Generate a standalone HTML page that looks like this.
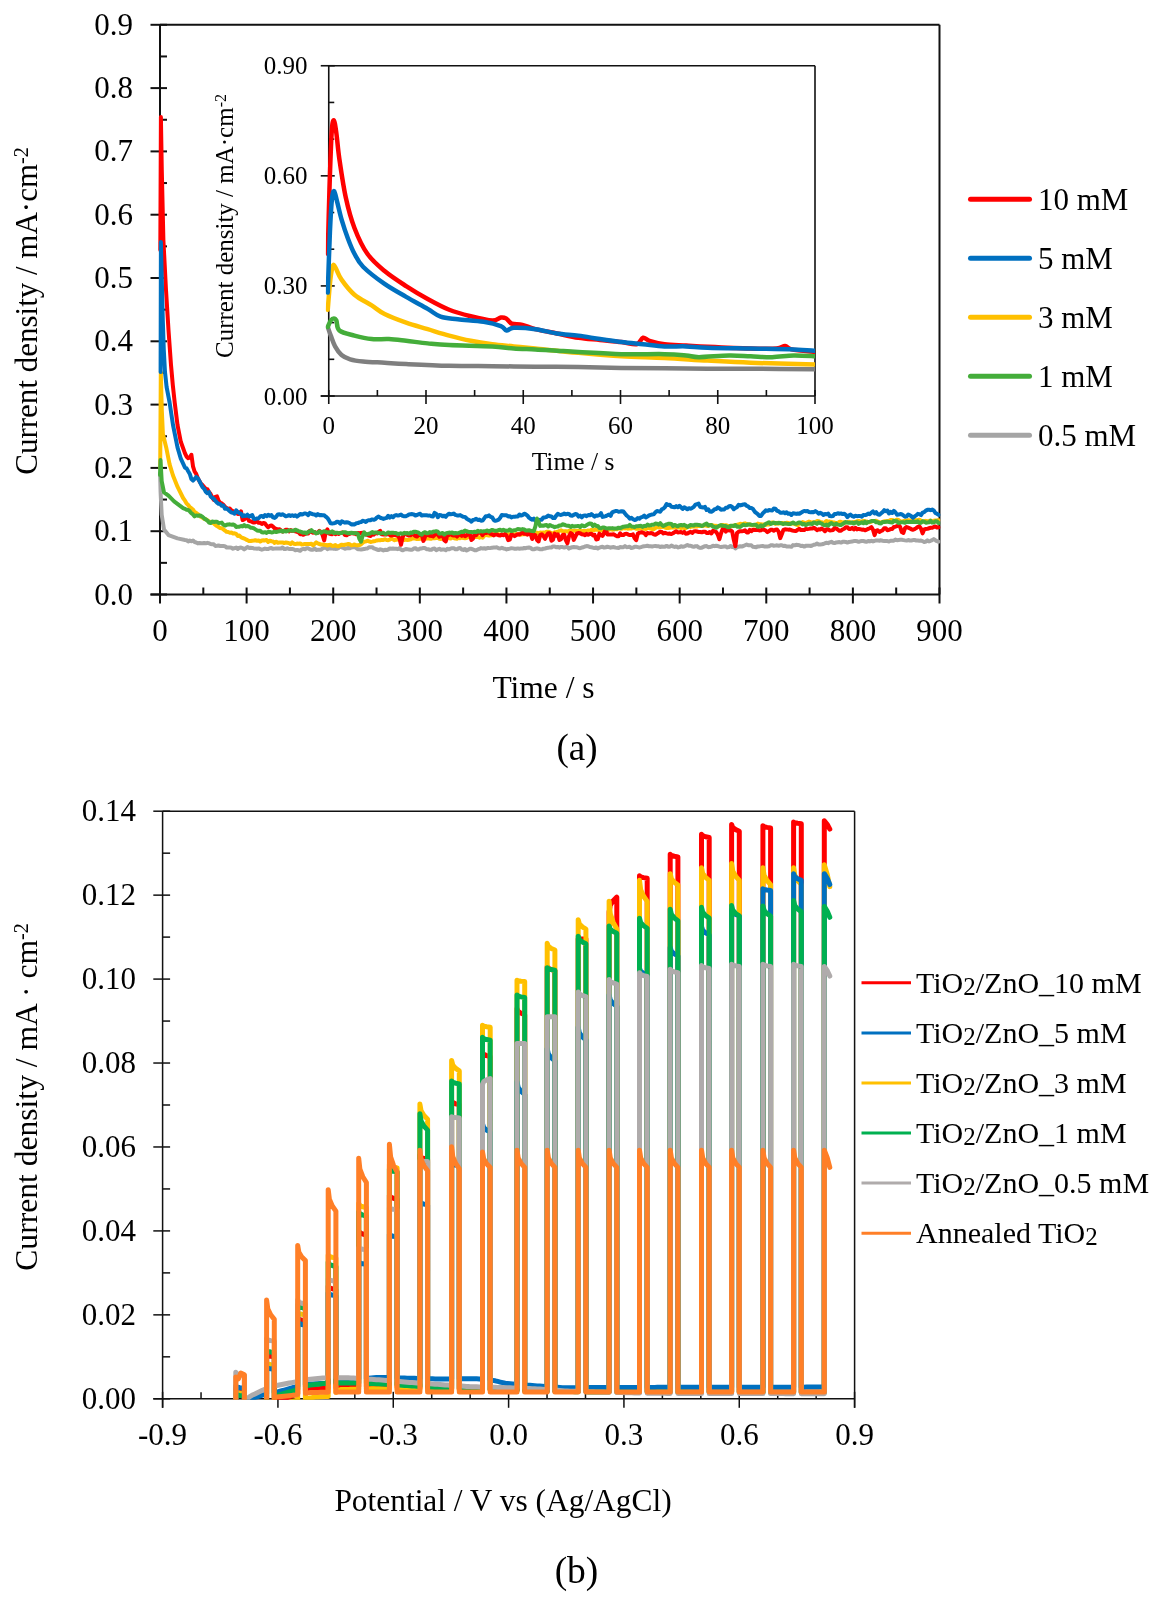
<!DOCTYPE html>
<html><head><meta charset="utf-8"><style>html,body{margin:0;padding:0;background:#fff;width:1161px;height:1602px;overflow:hidden}svg{display:block;will-change:transform}</style></head>
<body><svg width="1161" height="1602" viewBox="0 0 1161 1602" font-family="'Liberation Serif', serif">
<rect width="1161" height="1602" fill="#fff"/>
<line x1="160" y1="24.8" x2="939.5" y2="24.8" stroke="#111" stroke-width="2"/>
<line x1="939.5" y1="24.8" x2="939.5" y2="594.5" stroke="#111" stroke-width="2"/>
<line x1="160" y1="24.8" x2="160" y2="594.5" stroke="#111" stroke-width="2"/>
<line x1="150.5" y1="594.5" x2="939.5" y2="594.5" stroke="#111" stroke-width="2"/>
<line x1="150.5" y1="594.5" x2="167" y2="594.5" stroke="#111" stroke-width="2"/>
<text x="133" y="604.5" font-size="31" text-anchor="end" >0.0</text>
<line x1="150.5" y1="531.2" x2="167" y2="531.2" stroke="#111" stroke-width="2"/>
<text x="133" y="541.2" font-size="31" text-anchor="end" >0.1</text>
<line x1="150.5" y1="467.9" x2="167" y2="467.9" stroke="#111" stroke-width="2"/>
<text x="133" y="477.9" font-size="31" text-anchor="end" >0.2</text>
<line x1="150.5" y1="404.6" x2="167" y2="404.6" stroke="#111" stroke-width="2"/>
<text x="133" y="414.6" font-size="31" text-anchor="end" >0.3</text>
<line x1="150.5" y1="341.3" x2="167" y2="341.3" stroke="#111" stroke-width="2"/>
<text x="133" y="351.3" font-size="31" text-anchor="end" >0.4</text>
<line x1="150.5" y1="278" x2="167" y2="278" stroke="#111" stroke-width="2"/>
<text x="133" y="288" font-size="31" text-anchor="end" >0.5</text>
<line x1="150.5" y1="214.7" x2="167" y2="214.7" stroke="#111" stroke-width="2"/>
<text x="133" y="224.7" font-size="31" text-anchor="end" >0.6</text>
<line x1="150.5" y1="151.4" x2="167" y2="151.4" stroke="#111" stroke-width="2"/>
<text x="133" y="161.4" font-size="31" text-anchor="end" >0.7</text>
<line x1="150.5" y1="88.1" x2="167" y2="88.1" stroke="#111" stroke-width="2"/>
<text x="133" y="98.1" font-size="31" text-anchor="end" >0.8</text>
<line x1="150.5" y1="24.8" x2="167" y2="24.8" stroke="#111" stroke-width="2"/>
<text x="133" y="34.8" font-size="31" text-anchor="end" >0.9</text>
<line x1="160" y1="562.85" x2="167" y2="562.85" stroke="#111" stroke-width="2"/>
<line x1="160" y1="499.55" x2="167" y2="499.55" stroke="#111" stroke-width="2"/>
<line x1="160" y1="436.25" x2="167" y2="436.25" stroke="#111" stroke-width="2"/>
<line x1="160" y1="372.95" x2="167" y2="372.95" stroke="#111" stroke-width="2"/>
<line x1="160" y1="309.65" x2="167" y2="309.65" stroke="#111" stroke-width="2"/>
<line x1="160" y1="246.35" x2="167" y2="246.35" stroke="#111" stroke-width="2"/>
<line x1="160" y1="183.05" x2="167" y2="183.05" stroke="#111" stroke-width="2"/>
<line x1="160" y1="119.75" x2="167" y2="119.75" stroke="#111" stroke-width="2"/>
<line x1="160" y1="56.45" x2="167" y2="56.45" stroke="#111" stroke-width="2"/>
<line x1="160" y1="587.5" x2="160" y2="603.5" stroke="#111" stroke-width="2"/>
<text x="160" y="641" font-size="31" text-anchor="middle" >0</text>
<line x1="246.61" y1="587.5" x2="246.61" y2="603.5" stroke="#111" stroke-width="2"/>
<text x="246.61" y="641" font-size="31" text-anchor="middle" >100</text>
<line x1="333.22" y1="587.5" x2="333.22" y2="603.5" stroke="#111" stroke-width="2"/>
<text x="333.22" y="641" font-size="31" text-anchor="middle" >200</text>
<line x1="419.83" y1="587.5" x2="419.83" y2="603.5" stroke="#111" stroke-width="2"/>
<text x="419.83" y="641" font-size="31" text-anchor="middle" >300</text>
<line x1="506.44" y1="587.5" x2="506.44" y2="603.5" stroke="#111" stroke-width="2"/>
<text x="506.44" y="641" font-size="31" text-anchor="middle" >400</text>
<line x1="593.06" y1="587.5" x2="593.06" y2="603.5" stroke="#111" stroke-width="2"/>
<text x="593.06" y="641" font-size="31" text-anchor="middle" >500</text>
<line x1="679.67" y1="587.5" x2="679.67" y2="603.5" stroke="#111" stroke-width="2"/>
<text x="679.67" y="641" font-size="31" text-anchor="middle" >600</text>
<line x1="766.28" y1="587.5" x2="766.28" y2="603.5" stroke="#111" stroke-width="2"/>
<text x="766.28" y="641" font-size="31" text-anchor="middle" >700</text>
<line x1="852.89" y1="587.5" x2="852.89" y2="603.5" stroke="#111" stroke-width="2"/>
<text x="852.89" y="641" font-size="31" text-anchor="middle" >800</text>
<line x1="939.5" y1="587.5" x2="939.5" y2="603.5" stroke="#111" stroke-width="2"/>
<text x="939.5" y="641" font-size="31" text-anchor="middle" >900</text>
<line x1="203.31" y1="587.5" x2="203.31" y2="594.5" stroke="#111" stroke-width="2"/>
<line x1="289.92" y1="587.5" x2="289.92" y2="594.5" stroke="#111" stroke-width="2"/>
<line x1="376.53" y1="587.5" x2="376.53" y2="594.5" stroke="#111" stroke-width="2"/>
<line x1="463.14" y1="587.5" x2="463.14" y2="594.5" stroke="#111" stroke-width="2"/>
<line x1="549.75" y1="587.5" x2="549.75" y2="594.5" stroke="#111" stroke-width="2"/>
<line x1="636.36" y1="587.5" x2="636.36" y2="594.5" stroke="#111" stroke-width="2"/>
<line x1="722.97" y1="587.5" x2="722.97" y2="594.5" stroke="#111" stroke-width="2"/>
<line x1="809.58" y1="587.5" x2="809.58" y2="594.5" stroke="#111" stroke-width="2"/>
<line x1="896.19" y1="587.5" x2="896.19" y2="594.5" stroke="#111" stroke-width="2"/>
<clipPath id="clipA"><rect x="150" y="24.8" width="790.5" height="569.7"/></clipPath>
<g clip-path="url(#clipA)">
<path d="M160.1,473.3 L160.6,492.4 L161.7,514.8 L164,529.4 L168.5,535.1 L177.5,538.4 L185,540.03 L186.6,540.17 L188.2,541.47 L189.8,540.55 L191.4,541.24 L193,540.52 L194.6,542.05 L196.2,542.46 L197.8,543.39 L199.4,542.95 L201,543.28 L202.6,543.15 L204.2,542.9 L205.8,543.33 L207.4,542.86 L209,543.16 L210.6,543.98 L212.2,544.26 L213.8,544.34 L215.4,545.96 L217,545.83 L218.6,545.55 L220.2,545.95 L221.8,545.95 L223.4,546.06 L225,546.17 L226.6,547.61 L228.2,547.38 L229.8,547.4 L231.4,547.75 L233,548.76 L234.6,548.11 L236.2,547.55 L237.8,548.99 L239.4,547.66 L241,547.56 L242.6,548.12 L244.2,549.35 L245.8,548.29 L247.4,546.92 L249,547.91 L250.6,547.83 L252.2,547.9 L253.8,548.44 L255.4,548.62 L257,548.73 L258.6,548.39 L260.2,549.15 L261.8,549.68 L263.4,549.17 L265,548.62 L266.6,548.97 L268.2,549.02 L269.8,548.21 L271.4,548.09 L273,548.85 L274.6,548.64 L276.2,548.4 L277.8,548.56 L279.4,548.51 L281,548.52 L282.6,547.48 L284.2,548.94 L285.8,548.9 L287.4,548.29 L289,548.99 L290.6,549.01 L292.2,548.88 L293.8,549.38 L295.4,550.33 L297,549.92 L298.6,550.28 L300.2,550.79 L301.8,549.34 L303.4,548.82 L305,549.26 L306.6,548.15 L308.2,548.34 L309.8,549.31 L311.4,549.71 L313,549.69 L314.6,548.33 L316.2,549.92 L317.8,549.82 L319.4,549.85 L321,549.68 L322.6,548.35 L324.2,547.76 L325.8,547.53 L327.4,549.11 L329,548.44 L330.6,548.38 L332.2,548.32 L333.8,548.72 L335.4,548.88 L337,548.82 L338.6,547.93 L340.2,546.38 L341.8,547.33 L343.4,547.89 L345,548.71 L346.6,548.4 L348.2,547.99 L349.8,548.36 L351.4,547.49 L353,547.31 L354.6,547.24 L356.2,547.93 L357.8,549.31 L359.4,549.36 L361,549.6 L362.6,549.26 L364.2,549.1 L365.8,548.63 L367.4,548.48 L369,547.23 L370.6,547.23 L372.2,547.19 L373.8,548.36 L375.4,548.92 L377,549.5 L378.6,550.07 L380.2,549.37 L381.8,549.74 L383.4,550.46 L385,549.79 L386.6,550.03 L388.2,549.49 L389.8,548.42 L391.4,548.79 L393,548.49 L394.6,548.85 L396.2,548.75 L397.8,549.14 L399.4,548.02 L401,549.73 L402.6,550.29 L404.2,549.67 L405.8,549 L407.4,549.14 L409,549.58 L410.6,549.69 L412.2,549.73 L413.8,548.46 L415.4,548.21 L417,549.44 L418.6,549.51 L420.2,548.58 L421.8,548.43 L423.4,548.02 L425,548.04 L426.6,549.25 L428.2,549.15 L429.8,549.84 L431.4,549.7 L433,548.68 L434.6,548.6 L436.2,550.19 L437.8,549.36 L439.4,548.75 L441,549.69 L442.6,549.56 L444.2,549.44 L445.8,550.2 L447.4,548.81 L449,549.26 L450.6,548.69 L452.2,548.18 L453.8,548.23 L455.4,549.36 L457,549.25 L458.6,548.24 L460.2,548.1 L461.8,549.47 L463.4,549.94 L465,548.99 L466.6,550.44 L468.2,549.65 L469.8,548.75 L471.4,548.83 L473,549.47 L474.6,550.19 L476.2,550.24 L477.8,549.45 L479.4,548.92 L481,548.12 L482.6,548.44 L484.2,548.31 L485.8,548.71 L487.4,548.06 L489,548.12 L490.6,547.93 L492.2,547.64 L493.8,547.48 L495.4,547.47 L497,547.36 L498.6,548.28 L500.2,548.5 L501.8,547.82 L503.4,548.46 L505,548.68 L506.6,549.45 L508.2,548.93 L509.8,548.62 L511.4,548.17 L513,548.37 L514.6,548.68 L516.2,548.66 L517.8,548.39 L519.4,548.7 L521,548.59 L522.6,548.6 L524.2,547.94 L525.8,548.2 L527.4,547.66 L529,547.43 L530.6,547.87 L532.2,549.19 L533.8,549.28 L535.4,548.76 L537,548.36 L538.6,548.78 L540.2,549.23 L541.8,549.37 L543.4,548.65 L545,548.45 L546.6,548.04 L548.2,547.82 L549.8,547.38 L551.4,547.46 L553,546.42 L554.6,546.38 L556.2,547.26 L557.8,546.97 L559.4,547.62 L561,546.94 L562.6,547.07 L564.2,547.57 L565.8,547.02 L567.4,546.89 L569,548.6 L570.6,547.76 L572.2,547.27 L573.8,547.06 L575.4,547.28 L577,547.35 L578.6,547.95 L580.2,548.16 L581.8,547.59 L583.4,547.3 L585,546.53 L586.6,546.05 L588.2,546.2 L589.8,547.1 L591.4,547.24 L593,547.69 L594.6,548 L596.2,547.54 L597.8,548.55 L599.4,547.62 L601,547.04 L602.6,546.82 L604.2,547.57 L605.8,547.25 L607.4,546.73 L609,547.09 L610.6,547.67 L612.2,547.3 L613.8,547.01 L615.4,547.6 L617,547.86 L618.6,547.98 L620.2,547.08 L621.8,547.17 L623.4,547.26 L625,546.09 L626.6,547.13 L628.2,547.08 L629.8,546.8 L631.4,548.1 L633,547.63 L634.6,546.87 L636.2,546.82 L637.8,547.15 L639.4,547.46 L641,547.14 L642.6,546.5 L644.2,546.24 L645.8,546.03 L647.4,545.78 L649,546.21 L650.6,546.19 L652.2,546.47 L653.8,546.13 L655.4,545.92 L657,546.18 L658.6,546.23 L660.2,547.09 L661.8,546.41 L663.4,546.65 L665,546.64 L666.6,545.92 L668.2,546.67 L669.8,546.76 L671.4,545.53 L673,546.37 L674.6,547.01 L676.2,546.39 L677.8,547.44 L679.4,547.15 L681,546.25 L682.6,546.72 L684.2,546.45 L685.8,545.75 L687.4,544.91 L689,545.79 L690.6,545.71 L692.2,546.44 L693.8,546.7 L695.4,546.32 L697,546.11 L698.6,547.27 L700.2,547.88 L701.8,547.67 L703.4,546.92 L705,546.16 L706.6,546.07 L708.2,547.16 L709.8,547.08 L711.4,546.61 L713,545.82 L714.6,546.17 L716.2,545.76 L717.8,546.04 L719.4,546.59 L721,547.07 L722.6,546.81 L724.2,546.39 L725.8,546.47 L727.4,547.4 L729,547.1 L730.6,545.94 L732.2,546.95 L733.8,546.77 L735.4,548.47 L737,547.19 L738.6,546.69 L740.2,546.3 L741.8,546.45 L743.4,546 L745,545.24 L746.6,544.57 L748.2,545.2 L749.8,545.32 L751.4,545.35 L753,546.87 L754.6,546.96 L756.2,547.17 L757.8,546.39 L759.4,546.4 L761,546.12 L762.6,545.96 L764.2,546.4 L765.8,546.55 L767.4,546.47 L769,546.33 L770.6,545.36 L772.2,545.21 L773.8,545.75 L775.4,545.62 L777,545.32 L778.6,545.78 L780.2,545.31 L781.8,545.18 L783.4,545.97 L785,545.7 L786.6,546.54 L788.2,546.48 L789.8,546.61 L791.4,546.84 L793,545.12 L794.6,545.33 L796.2,544.76 L797.8,544.9 L799.4,545.16 L801,546.05 L802.6,545.81 L804.2,546.61 L805.8,545.83 L807.4,545.66 L809,545.63 L810.6,546 L812.2,545.48 L813.8,544.76 L815.4,544.43 L817,543.54 L818.6,544.43 L820.2,544.53 L821.8,544.3 L823.4,543.99 L825,543.22 L826.6,542.8 L828.2,543.14 L829.8,542.33 L831.4,541.79 L833,542.7 L834.6,543.08 L836.2,542.48 L837.8,542.24 L839.4,542.01 L841,542.58 L842.6,541.84 L844.2,541.74 L845.8,541.9 L847.4,542.52 L849,541.92 L850.6,541.86 L852.2,541.43 L853.8,541.1 L855.4,540.91 L857,541.22 L858.6,541.84 L860.2,541.3 L861.8,541.06 L863.4,541.03 L865,541.44 L866.6,541.85 L868.2,541 L869.8,541.42 L871.4,540.86 L873,541.47 L874.6,540.86 L876.2,540.43 L877.8,540.38 L879.4,540.69 L881,540.31 L882.6,540.76 L884.2,540.94 L885.8,540.98 L887.4,541.09 L889,541.46 L890.6,540.75 L892.2,540.74 L893.8,540.7 L895.4,539.53 L897,540.22 L898.6,539.93 L900.2,539.78 L901.8,539.82 L903.4,540.12 L905,540.39 L906.6,540.61 L908.2,540.05 L909.8,540.49 L911.4,540.55 L913,540.12 L914.6,540.06 L916.2,540.46 L917.8,540.52 L919.4,540.76 L921,540.61 L922.6,541.13 L924.2,542.05 L925.8,541.61 L927.4,540.28 L929,541.41 L930.6,540.8 L932.2,540.06 L933.8,539.14 L935.4,540.21 L937,541.2 L938.6,541.73" fill="none" stroke="#A5A5A5" stroke-width="4" stroke-linejoin="round" stroke-linecap="round" />
<path d="M160.2,468 L160.8,372 L161.8,410 L162.9,434 L166.2,447.4 L169.6,464.3 L173,475.5 L177.5,486.7 L183.1,498 L185,500.7 L186.6,503.59 L188.2,504.99 L189.8,507.25 L191.4,508.29 L193,509.5 L194.6,511.98 L196.2,513.02 L197.8,514.1 L199.4,515.49 L201,516.98 L202.6,517.67 L204.2,518.91 L205.8,519.24 L207.4,520.3 L209,521.37 L210.6,521.99 L212.2,522.77 L213.8,523.55 L215.4,524.94 L217,526.1 L218.6,527 L220.2,528.06 L221.8,528.23 L223.4,529.37 L225,530.54 L226.6,531.83 L228.2,532.01 L229.8,532.72 L231.4,532.58 L233,533.5 L234.6,533.35 L236.2,533.97 L237.8,535.96 L239.4,535.52 L241,537.17 L242.6,538.06 L244.2,538.44 L245.8,539.33 L247.4,540.1 L249,541.06 L250.6,541.11 L252.2,540.73 L253.8,540.55 L255.4,540.28 L257,540.69 L258.6,540.54 L260.2,541.52 L261.8,540.48 L263.4,540.37 L265,540.45 L266.6,539.94 L268.2,541.92 L269.8,540.69 L271.4,541.25 L273,541.48 L274.6,542.87 L276.2,541.69 L277.8,542.78 L279.4,542.45 L281,542.58 L282.6,542.39 L284.2,543.02 L285.8,542.42 L287.4,542.7 L289,543.11 L290.6,544.18 L292.2,542.46 L293.8,543.7 L295.4,544.09 L297,543.54 L298.6,543.7 L300.2,543.39 L301.8,544.47 L303.4,544.32 L305,544.05 L306.6,543.95 L308.2,543.96 L309.8,544.03 L311.4,543.73 L313,545.24 L314.6,543.93 L316.2,542.33 L317.8,543.42 L319.4,544 L321,544.59 L322.6,544.62 L324.2,544.67 L325.8,544.97 L327.4,545.5 L329,545.03 L330.6,544.81 L332.2,545.98 L333.8,545.86 L335.4,544.97 L337,546.31 L338.6,546.21 L340.2,545.41 L341.8,544.66 L343.4,545.07 L345,544.69 L346.6,544.36 L348.2,544.06 L349.8,544.34 L351.4,545.39 L353,545.14 L354.6,544.45 L356.2,545.24 L357.8,545.36 L359.4,545.02 L361,544.39 L362.6,542.8 L364.2,541.63 L365.8,541.47 L367.4,540.75 L369,541.31 L370.6,541.97 L372.2,541.65 L373.8,541.21 L375.4,540.92 L377,540.45 L378.6,540.14 L380.2,540.16 L381.8,539.9 L383.4,539.94 L385,539.31 L386.6,539.98 L388.2,540.16 L389.8,539.56 L391.4,538.57 L393,539.25 L394.6,540.21 L396.2,539.69 L397.8,539.51 L399.4,539.33 L401,539.87 L402.6,539.27 L404.2,539.96 L405.8,539.58 L407.4,540.02 L409,539.73 L410.6,539.39 L412.2,538.49 L413.8,538.39 L415.4,538.53 L417,539.08 L418.6,539.12 L420.2,538.59 L421.8,538.87 L423.4,539.31 L425,538.89 L426.6,538.46 L428.2,538.21 L429.8,538.71 L431.4,538.79 L433,538.04 L434.6,538.36 L436.2,538.07 L437.8,537.76 L439.4,538.69 L441,538.96 L442.6,538.27 L444.2,538.33 L445.8,538.59 L447.4,538.11 L449,538.13 L450.6,538.57 L452.2,537.47 L453.8,538.02 L455.4,538.55 L457,538.72 L458.6,537.79 L460.2,538.2 L461.8,537.64 L463.4,538.03 L465,538.19 L466.6,537.99 L468.2,537.27 L469.8,536.89 L471.4,537.41 L473,536.65 L474.6,536.93 L476.2,537.02 L477.8,536.56 L479.4,537.71 L481,536.98 L482.6,537.65 L484.2,535.66 L485.8,534.37 L487.4,535.36 L489,535.64 L490.6,535.28 L492.2,535.19 L493.8,534.09 L495.4,534.15 L497,533.92 L498.6,534.21 L500.2,534.94 L501.8,534.85 L503.4,534.94 L505,534.36 L506.6,534.16 L508.2,534.31 L509.8,534.14 L511.4,534.86 L513,534.05 L514.6,535.08 L516.2,534.04 L517.8,534.55 L519.4,533.79 L521,534.67 L522.6,534.28 L524.2,534.18 L525.8,534.28 L527.4,533.54 L529,532.87 L530.6,531.93 L532.2,533.16 L533.8,532.75 L535.4,532.54 L537,532.7 L538.6,533.87 L540.2,532.43 L541.8,532.69 L543.4,532.44 L545,532.78 L546.6,531.63 L548.2,531.71 L549.8,532.39 L551.4,533.1 L553,533.46 L554.6,532.27 L556.2,532.06 L557.8,531.8 L559.4,530.91 L561,530.34 L562.6,531.18 L564.2,531.31 L565.8,531.12 L567.4,531.71 L569,530.77 L570.6,531.04 L572.2,530.85 L573.8,530.66 L575.4,530.85 L577,530.77 L578.6,530.75 L580.2,530.72 L581.8,531.6 L583.4,530.82 L585,531.1 L586.6,531 L588.2,530.4 L589.8,530.68 L591.4,529.9 L593,530.56 L594.6,529.82 L596.2,529.56 L597.8,529.84 L599.4,530.26 L601,530.5 L602.6,530.61 L604.2,530.03 L605.8,529.28 L607.4,529.67 L609,529.72 L610.6,529.04 L612.2,529.69 L613.8,529.6 L615.4,528.89 L617,529.25 L618.6,528.45 L620.2,528.23 L621.8,528.79 L623.4,527.99 L625,528.41 L626.6,527.85 L628.2,528.66 L629.8,528.28 L631.4,528.55 L633,527.74 L634.6,527.91 L636.2,528.69 L637.8,528.83 L639.4,527.61 L641,528.44 L642.6,528.85 L644.2,528.36 L645.8,529.05 L647.4,528.04 L649,527.99 L650.6,528.61 L652.2,529.03 L653.8,529.21 L655.4,527.99 L657,526.91 L658.6,527.49 L660.2,526.78 L661.8,527.08 L663.4,526.59 L665,527.58 L666.6,527.96 L668.2,528.01 L669.8,527.71 L671.4,527.54 L673,527.23 L674.6,527.41 L676.2,527.41 L677.8,527.5 L679.4,527.03 L681,528.03 L682.6,527.67 L684.2,528.05 L685.8,528.21 L687.4,527.05 L689,525.94 L690.6,526.93 L692.2,526.54 L693.8,526.56 L695.4,526.36 L697,526.44 L698.6,525.73 L700.2,525.91 L701.8,525.79 L703.4,525.94 L705,524.72 L706.6,525.76 L708.2,526.04 L709.8,525.04 L711.4,525.01 L713,525.38 L714.6,525.9 L716.2,525.81 L717.8,526.49 L719.4,526.09 L721,525.29 L722.6,525 L724.2,525.59 L725.8,525.15 L727.4,525.68 L729,526.05 L730.6,525.98 L732.2,526.16 L733.8,525.58 L735.4,525.32 L737,524.83 L738.6,524.53 L740.2,523.81 L741.8,523.95 L743.4,523.72 L745,523.37 L746.6,524.01 L748.2,524.51 L749.8,524.33 L751.4,525.14 L753,525.32 L754.6,525.46 L756.2,524.6 L757.8,523.61 L759.4,524.17 L761,524.32 L762.6,524.6 L764.2,524.56 L765.8,524.98 L767.4,524.33 L769,524.48 L770.6,523.67 L772.2,522.43 L773.8,522.74 L775.4,523.96 L777,522.86 L778.6,523.71 L780.2,523.22 L781.8,523.08 L783.4,523.24 L785,523.4 L786.6,522.81 L788.2,523.08 L789.8,523.38 L791.4,523.74 L793,523.05 L794.6,523.91 L796.2,524.57 L797.8,525.19 L799.4,523.44 L801,523.3 L802.6,522.08 L804.2,522.62 L805.8,523 L807.4,522.25 L809,521.58 L810.6,522.17 L812.2,522.71 L813.8,522.21 L815.4,522.21 L817,520.95 L818.6,521.23 L820.2,521.84 L821.8,522.16 L823.4,523.1 L825,522.1 L826.6,520.92 L828.2,521.74 L829.8,521.6 L831.4,521.99 L833,522.42 L834.6,522.57 L836.2,523.1 L837.8,523.32 L839.4,521.77 L841,521.78 L842.6,522.9 L844.2,522.17 L845.8,522.51 L847.4,522.12 L849,521.68 L850.6,522.53 L852.2,522.68 L853.8,522.04 L855.4,522.3 L857,521.2 L858.6,520.91 L860.2,521.62 L861.8,521.52 L863.4,520.84 L865,521.28 L866.6,521.44 L868.2,522.04 L869.8,522.17 L871.4,521.54 L873,521.07 L874.6,520.98 L876.2,520.86 L877.8,521.71 L879.4,522.23 L881,522.37 L882.6,521.89 L884.2,521.26 L885.8,521.53 L887.4,520.98 L889,520.97 L890.6,519.91 L892.2,519.99 L893.8,521.04 L895.4,520.28 L897,519.62 L898.6,520 L900.2,521.22 L901.8,521.77 L903.4,521.09 L905,520.66 L906.6,520.63 L908.2,520.17 L909.8,520.45 L911.4,520.43 L913,519.78 L914.6,519.92 L916.2,520.18 L917.8,520 L919.4,519.76 L921,520.75 L922.6,521.85 L924.2,521.25 L925.8,520.86 L927.4,521.16 L929,520.93 L930.6,520.5 L932.2,521.47 L933.8,520.67 L935.4,520.41 L937,520.31 L938.6,520.14" fill="none" stroke="#FFC000" stroke-width="4" stroke-linejoin="round" stroke-linecap="round" />
<path d="M160.3,250 L160.9,117 L161.8,170 L163.4,240 L166,290 L168.5,330 L171,365 L172.8,385 L174.7,402.5 L177.5,425 L180.8,441.8 L185,453.41 L186.6,456.74 L188.2,458.15 L189.8,457.58 L191.4,454.83 L193,466.32 L194.6,471.49 L196.2,473.94 L197.8,478.14 L199.4,480.89 L201,483.78 L202.6,485.06 L204.2,487.24 L205.8,488.94 L207.4,489.3 L209,492.06 L210.6,494.1 L212.2,497.41 L213.8,499.85 L215.4,496.79 L217,496.3 L218.6,500.78 L220.2,502.76 L221.8,503.42 L223.4,504.77 L225,506.69 L226.6,507.99 L228.2,508.73 L229.8,508.58 L231.4,510.41 L233,511.02 L234.6,512.19 L236.2,512.65 L237.8,513.95 L239.4,513.68 L241,511.43 L242.6,520.07 L244.2,519.39 L245.8,516.72 L247.4,517.66 L249,520.91 L250.6,521.28 L252.2,521.98 L253.8,522.51 L255.4,522.17 L257,521.03 L258.6,522.84 L260.2,522.79 L261.8,523.95 L263.4,522.95 L265,523.5 L266.6,525.64 L268.2,527.25 L269.8,525.95 L271.4,525.48 L273,526.66 L274.6,528.28 L276.2,528.93 L277.8,529.69 L279.4,529.23 L281,530.36 L282.6,531.53 L284.2,530.88 L285.8,529.73 L287.4,529.81 L289,531.33 L290.6,530.03 L292.2,530.89 L293.8,530.67 L295.4,531.42 L297,531.84 L298.6,532.41 L300.2,534.15 L301.8,534.05 L303.4,534.84 L305,533.96 L306.6,533.19 L308.2,533.56 L309.8,530.89 L311.4,531.95 L313,532.74 L314.6,531.93 L316.2,533.03 L317.8,532.74 L319.4,530.88 L321,531.9 L322.6,535.06 L324.2,540.34 L325.8,531.62 L327.4,529.39 L329,533.61 L330.6,533.98 L332.2,534.27 L333.8,532.47 L335.4,534.25 L337,533.15 L338.6,533.94 L340.2,532.97 L341.8,532.57 L343.4,532.88 L345,535.11 L346.6,535.27 L348.2,534.19 L349.8,533.9 L351.4,532.96 L353,533.45 L354.6,533.24 L356.2,534.3 L357.8,533.02 L359.4,533.24 L361,532.91 L362.6,532.85 L364.2,534.1 L365.8,534.27 L367.4,534.79 L369,535.62 L370.6,536.05 L372.2,534.02 L373.8,534.63 L375.4,532.9 L377,533.48 L378.6,532.05 L380.2,530.77 L381.8,534.31 L383.4,534.49 L385,534.46 L386.6,534.46 L388.2,533.76 L389.8,535.04 L391.4,535.57 L393,534.88 L394.6,534.98 L396.2,535.35 L397.8,535.89 L399.4,538.08 L401,544.74 L402.6,537.39 L404.2,533.76 L405.8,533.63 L407.4,534.92 L409,535.59 L410.6,535.2 L412.2,534.34 L413.8,534.65 L415.4,536.04 L417,536.53 L418.6,534.95 L420.2,534.66 L421.8,534.86 L423.4,540.9 L425,536.9 L426.6,533.98 L428.2,535.01 L429.8,535.85 L431.4,535.92 L433,536.39 L434.6,534.96 L436.2,533.65 L437.8,534.4 L439.4,536.76 L441,535.97 L442.6,534.17 L444.2,540.16 L445.8,541.37 L447.4,534.08 L449,534.88 L450.6,534.04 L452.2,535.27 L453.8,535.51 L455.4,535.2 L457,536.55 L458.6,535.12 L460.2,534.09 L461.8,535.8 L463.4,534.28 L465,536.21 L466.6,535.25 L468.2,533.82 L469.8,533.96 L471.4,539.98 L473,538.69 L474.6,534.06 L476.2,535.05 L477.8,532.54 L479.4,532.74 L481,533.11 L482.6,535.18 L484.2,532.89 L485.8,533.11 L487.4,532.51 L489,532.6 L490.6,533.82 L492.2,534.29 L493.8,535.46 L495.4,534.27 L497,534.39 L498.6,535.27 L500.2,535.51 L501.8,534.53 L503.4,535.31 L505,533.89 L506.6,535.56 L508.2,540.09 L509.8,539.54 L511.4,534.49 L513,535.03 L514.6,536.14 L516.2,535.05 L517.8,534.24 L519.4,534.66 L521,533.58 L522.6,532.24 L524.2,533.79 L525.8,533.54 L527.4,534.76 L529,533.49 L530.6,533.66 L532.2,539.03 L533.8,534.68 L535.4,535.11 L537,539.99 L538.6,541.42 L540.2,535.01 L541.8,534.22 L543.4,535.83 L545,538.89 L546.6,535.49 L548.2,533.2 L549.8,533.16 L551.4,540.71 L553,539.82 L554.6,533.6 L556.2,535.58 L557.8,534.34 L559.4,540.03 L561,539.19 L562.6,534.96 L564.2,534.68 L565.8,540.08 L567.4,543.26 L569,536.26 L570.6,533.15 L572.2,533.95 L573.8,539.87 L575.4,536.59 L577,533.36 L578.6,533.07 L580.2,533.21 L581.8,534.19 L583.4,534.45 L585,535.15 L586.6,533.89 L588.2,534.83 L589.8,534 L591.4,533.73 L593,535.41 L594.6,534.84 L596.2,539.43 L597.8,539.09 L599.4,533.65 L601,535.19 L602.6,535.85 L604.2,532.75 L605.8,528.94 L607.4,534.44 L609,534.6 L610.6,534.62 L612.2,534.58 L613.8,534.26 L615.4,535.47 L617,536.22 L618.6,536.23 L620.2,533.3 L621.8,535.06 L623.4,534.98 L625,533.89 L626.6,533.66 L628.2,534.57 L629.8,535.08 L631.4,535.07 L633,534.4 L634.6,538.29 L636.2,540.18 L637.8,533.76 L639.4,532.69 L641,532.33 L642.6,532.55 L644.2,533.09 L645.8,535.11 L647.4,532.93 L649,533.38 L650.6,533.11 L652.2,533.29 L653.8,534.33 L655.4,534.78 L657,533.76 L658.6,532.82 L660.2,531.56 L661.8,532.02 L663.4,533.45 L665,532.85 L666.6,533.39 L668.2,533.67 L669.8,533.53 L671.4,534.06 L673,533.25 L674.6,532.15 L676.2,531.23 L677.8,532.59 L679.4,532.17 L681,531.97 L682.6,532.87 L684.2,531.89 L685.8,533.64 L687.4,533.6 L689,532.49 L690.6,531.76 L692.2,532.9 L693.8,531.47 L695.4,531.15 L697,531.55 L698.6,531.93 L700.2,531.96 L701.8,532.29 L703.4,531.78 L705,531.71 L706.6,532.9 L708.2,532.99 L709.8,532.03 L711.4,533.44 L713,530.87 L714.6,531.3 L716.2,532.05 L717.8,534.64 L719.4,539.31 L721,533.53 L722.6,529.1 L724.2,527.01 L725.8,531.71 L727.4,529.15 L729,530.5 L730.6,530.17 L732.2,531.53 L733.8,539.82 L735.4,546.28 L737,533.04 L738.6,531.75 L740.2,531.17 L741.8,531.34 L743.4,531.11 L745,530.3 L746.6,532.41 L748.2,532.43 L749.8,529.92 L751.4,531.18 L753,529.8 L754.6,530.07 L756.2,529.89 L757.8,529.82 L759.4,530.47 L761,530.3 L762.6,529.18 L764.2,529.85 L765.8,530.53 L767.4,532.16 L769,531.08 L770.6,529.77 L772.2,529.76 L773.8,530.68 L775.4,529.78 L777,529.42 L778.6,531.58 L780.2,538.12 L781.8,534.22 L783.4,529.86 L785,529.3 L786.6,529.42 L788.2,529.63 L789.8,529.57 L791.4,530.21 L793,530.65 L794.6,530.88 L796.2,530.93 L797.8,529.72 L799.4,528.83 L801,530.05 L802.6,530 L804.2,530.06 L805.8,528.93 L807.4,529.14 L809,528.87 L810.6,528.5 L812.2,528.49 L813.8,527.7 L815.4,528.67 L817,530.16 L818.6,529.29 L820.2,529.51 L821.8,528.56 L823.4,529.6 L825,531.24 L826.6,529.34 L828.2,529.19 L829.8,530.58 L831.4,530.38 L833,530.03 L834.6,527.88 L836.2,528.39 L837.8,529.62 L839.4,530.74 L841,530.64 L842.6,529.47 L844.2,528.71 L845.8,527.27 L847.4,527.13 L849,529.02 L850.6,528.93 L852.2,527.76 L853.8,529.5 L855.4,527.75 L857,529.42 L858.6,528.9 L860.2,529.19 L861.8,529.65 L863.4,529.51 L865,530.33 L866.6,529.64 L868.2,528.94 L869.8,528.24 L871.4,527.13 L873,529.73 L874.6,535.08 L876.2,530.67 L877.8,530.27 L879.4,531.94 L881,531.04 L882.6,530.33 L884.2,528.3 L885.8,528.13 L887.4,530.22 L889,529.86 L890.6,529.04 L892.2,528.99 L893.8,526.96 L895.4,526.74 L897,526.16 L898.6,525.06 L900.2,527.04 L901.8,532.09 L903.4,532.98 L905,528.11 L906.6,526.99 L908.2,527.65 L909.8,528.26 L911.4,529.25 L913,529.79 L914.6,529.09 L916.2,528.11 L917.8,526.92 L919.4,526.42 L921,528.58 L922.6,533.36 L924.2,529.38 L925.8,528.91 L927.4,528.82 L929,528.25 L930.6,527.79 L932.2,527.81 L933.8,526.95 L935.4,526.48 L937,527.46 L938.6,527.21" fill="none" stroke="#FF0000" stroke-width="4" stroke-linejoin="round" stroke-linecap="round" />
<path d="M160.6,372 L160.9,242 L161.8,280 L162.8,320 L163.8,350 L165,372 L166.6,387 L169.6,402.5 L173,425 L177.5,447.4 L180.8,458.7 L185,467.6 L186.6,468.4 L188.2,471.32 L189.8,473.95 L191.4,479.08 L193,480.54 L194.6,478.91 L196.2,476.98 L197.8,478.22 L199.4,481.05 L201,484.23 L202.6,487.25 L204.2,488.71 L205.8,491.68 L207.4,493.18 L209,492.16 L210.6,496.36 L212.2,497.71 L213.8,498.72 L215.4,500.9 L217,502.66 L218.6,503.84 L220.2,504.09 L221.8,505.78 L223.4,505.5 L225,508.82 L226.6,508.4 L228.2,509.71 L229.8,511.13 L231.4,512.6 L233,512.75 L234.6,513.73 L236.2,510.33 L237.8,512.04 L239.4,513.1 L241,513.64 L242.6,516.21 L244.2,515.37 L245.8,516.05 L247.4,514.71 L249,516.54 L250.6,515.86 L252.2,515.19 L253.8,518.74 L255.4,519 L257,518.4 L258.6,518.23 L260.2,516.48 L261.8,515.89 L263.4,517.02 L265,514.99 L266.6,516.2 L268.2,514.77 L269.8,515.79 L271.4,515.03 L273,517.45 L274.6,517.97 L276.2,516.63 L277.8,514.43 L279.4,514.27 L281,514.9 L282.6,514.25 L284.2,515.14 L285.8,516.3 L287.4,515.84 L289,515.15 L290.6,515.96 L292.2,515.26 L293.8,516 L295.4,515.17 L297,516.63 L298.6,515.47 L300.2,514 L301.8,514.46 L303.4,513.98 L305,513.42 L306.6,513.95 L308.2,515.15 L309.8,512.87 L311.4,513.78 L313,514.19 L314.6,514.43 L316.2,515.55 L317.8,514.03 L319.4,515.21 L321,514.97 L322.6,515.2 L324.2,515.21 L325.8,516.63 L327.4,517.96 L329,520.39 L330.6,523.36 L332.2,523.46 L333.8,523.3 L335.4,522.91 L337,521.64 L338.6,522.04 L340.2,523.74 L341.8,521.27 L343.4,522.04 L345,522.65 L346.6,522.24 L348.2,522.52 L349.8,523.29 L351.4,524.54 L353,524.3 L354.6,524.52 L356.2,523.29 L357.8,523.12 L359.4,522.36 L361,522.05 L362.6,520.81 L364.2,521.14 L365.8,521.96 L367.4,520.64 L369,520.19 L370.6,520.18 L372.2,519.42 L373.8,519.79 L375.4,519.2 L377,517.43 L378.6,516.52 L380.2,517.73 L381.8,518.22 L383.4,518.9 L385,518.34 L386.6,517.92 L388.2,515.81 L389.8,517.59 L391.4,516.15 L393,517.27 L394.6,515.61 L396.2,515.11 L397.8,515.59 L399.4,515.19 L401,514.62 L402.6,515.85 L404.2,516.27 L405.8,516.23 L407.4,515.44 L409,514.49 L410.6,514.29 L412.2,514.11 L413.8,514.49 L415.4,515.47 L417,515.05 L418.6,514.16 L420.2,513.82 L421.8,515.52 L423.4,515.31 L425,515.24 L426.6,515.25 L428.2,515.63 L429.8,515.39 L431.4,516.33 L433,516.49 L434.6,512.94 L436.2,513.71 L437.8,517.25 L439.4,514.97 L441,515.14 L442.6,516.22 L444.2,515.74 L445.8,516.84 L447.4,514.84 L449,513.78 L450.6,514.28 L452.2,514.01 L453.8,513.55 L455.4,514.96 L457,515.46 L458.6,515.49 L460.2,515.1 L461.8,516.18 L463.4,516.8 L465,516.89 L466.6,518.52 L468.2,519.63 L469.8,520.3 L471.4,521.62 L473,520.01 L474.6,519.64 L476.2,518.82 L477.8,520 L479.4,519.59 L481,520.74 L482.6,520.6 L484.2,518.34 L485.8,516.15 L487.4,516.29 L489,515.37 L490.6,516.81 L492.2,517.4 L493.8,520.08 L495.4,520.82 L497,520.38 L498.6,519.7 L500.2,517.76 L501.8,515.02 L503.4,515.27 L505,515.19 L506.6,515.16 L508.2,516.54 L509.8,516.15 L511.4,517.46 L513,516.75 L514.6,516.78 L516.2,516.53 L517.8,516.6 L519.4,514.48 L521,515.57 L522.6,515.1 L524.2,513.66 L525.8,514.37 L527.4,515.55 L529,517.74 L530.6,518.88 L532.2,519.64 L533.8,518.56 L535.4,520.87 L537,521.32 L538.6,520.64 L540.2,519.71 L541.8,519.73 L543.4,517.43 L545,517.5 L546.6,516.86 L548.2,515.59 L549.8,516.24 L551.4,516.55 L553,518.06 L554.6,518.1 L556.2,515.56 L557.8,513.77 L559.4,514.65 L561,514.98 L562.6,514.42 L564.2,513.56 L565.8,514.33 L567.4,513.76 L569,513.9 L570.6,515.5 L572.2,515.74 L573.8,514.85 L575.4,514.02 L577,514.5 L578.6,516.68 L580.2,515.64 L581.8,517.31 L583.4,515.71 L585,515.4 L586.6,516.14 L588.2,515.08 L589.8,515.32 L591.4,514.05 L593,515.36 L594.6,516.58 L596.2,515.45 L597.8,515.66 L599.4,515.18 L601,513.16 L602.6,516.96 L604.2,516.47 L605.8,516.15 L607.4,515.32 L609,514.42 L610.6,515.9 L612.2,512.3 L613.8,511.61 L615.4,511.11 L617,510.96 L618.6,511.72 L620.2,511.55 L621.8,511.17 L623.4,511.49 L625,513.57 L626.6,515.54 L628.2,516.8 L629.8,518.61 L631.4,517.81 L633,519.21 L634.6,519.99 L636.2,519.48 L637.8,518.05 L639.4,518.72 L641,517.35 L642.6,516.8 L644.2,515.65 L645.8,517.56 L647.4,516.63 L649,515.49 L650.6,514.94 L652.2,514.49 L653.8,514.37 L655.4,512.34 L657,510.95 L658.6,511.36 L660.2,511.68 L661.8,509.28 L663.4,508.6 L665,507.06 L666.6,504.04 L668.2,504.9 L669.8,504.83 L671.4,506.84 L673,506.96 L674.6,507.3 L676.2,506.16 L677.8,507.23 L679.4,505.83 L681,507.32 L682.6,508.99 L684.2,507.23 L685.8,508.24 L687.4,509.27 L689,508.14 L690.6,508.75 L692.2,507.96 L693.8,506.87 L695.4,504.66 L697,504.29 L698.6,503.6 L700.2,507 L701.8,507.18 L703.4,507.51 L705,506.89 L706.6,510.01 L708.2,509.22 L709.8,511.6 L711.4,511.82 L713,510.78 L714.6,509.32 L716.2,508.98 L717.8,507.36 L719.4,508.3 L721,509.69 L722.6,509.52 L724.2,509.49 L725.8,507.73 L727.4,507.71 L729,506.3 L730.6,506.04 L732.2,507.01 L733.8,509.26 L735.4,508 L737,507.21 L738.6,504.78 L740.2,505.45 L741.8,504.97 L743.4,504.46 L745,504.25 L746.6,505.92 L748.2,506.45 L749.8,507.97 L751.4,508.05 L753,508.92 L754.6,511.58 L756.2,512.89 L757.8,514.08 L759.4,515.96 L761,515.9 L762.6,513.53 L764.2,512.11 L765.8,510.25 L767.4,510.85 L769,510.1 L770.6,510.3 L772.2,510.43 L773.8,508.53 L775.4,508.67 L777,510.81 L778.6,511.18 L780.2,512.63 L781.8,512.68 L783.4,512.34 L785,513.26 L786.6,512.25 L788.2,513.83 L789.8,513.42 L791.4,515 L793,513.23 L794.6,513.56 L796.2,513.9 L797.8,513.48 L799.4,513.79 L801,512.75 L802.6,511.81 L804.2,510.89 L805.8,511.18 L807.4,511.03 L809,511.95 L810.6,512.18 L812.2,512.12 L813.8,512.13 L815.4,511.08 L817,512.16 L818.6,513.66 L820.2,512.84 L821.8,513.6 L823.4,515 L825,514.03 L826.6,514.27 L828.2,513.66 L829.8,516.12 L831.4,516.28 L833,516.04 L834.6,513.91 L836.2,513.97 L837.8,513.23 L839.4,513.83 L841,513.41 L842.6,514.11 L844.2,513.75 L845.8,514.82 L847.4,517.09 L849,515.36 L850.6,514.65 L852.2,516.04 L853.8,516.73 L855.4,515.81 L857,516.16 L858.6,516.06 L860.2,516.02 L861.8,516.71 L863.4,514.91 L865,515.13 L866.6,514.74 L868.2,513.61 L869.8,514.15 L871.4,512.57 L873,511.46 L874.6,513.4 L876.2,512.2 L877.8,514.33 L879.4,514.79 L881,513.41 L882.6,512.23 L884.2,510.16 L885.8,511.18 L887.4,510.47 L889,513.47 L890.6,511.92 L892.2,512.97 L893.8,510.82 L895.4,512.18 L897,514.76 L898.6,514.49 L900.2,514.08 L901.8,514.32 L903.4,515.45 L905,516.71 L906.6,516.37 L908.2,514.46 L909.8,515.34 L911.4,516.23 L913,517.86 L914.6,516.38 L916.2,515.36 L917.8,513.86 L919.4,514.15 L921,515.15 L922.6,512.66 L924.2,512.19 L925.8,510.58 L927.4,509.85 L929,509.75 L930.6,510.19 L932.2,509.63 L933.8,510.48 L935.4,512.99 L937,513.84 L938.6,514.85" fill="none" stroke="#0070C0" stroke-width="4" stroke-linejoin="round" stroke-linecap="round" />
<path d="M160,475 L160.5,460 L161.7,481.1 L164,492.4 L168.5,495.7 L174.1,501.3 L183.1,508.1 L185,508.88 L186.6,509.82 L188.2,509.97 L189.8,511.36 L191.4,513.21 L193,514.45 L194.6,516.34 L196.2,515.39 L197.8,515.69 L199.4,515.46 L201,515.82 L202.6,516.98 L204.2,518.33 L205.8,519.59 L207.4,520.51 L209,522.52 L210.6,522.96 L212.2,521.49 L213.8,521.93 L215.4,521.69 L217,521.71 L218.6,523.09 L220.2,522.87 L221.8,522.63 L223.4,524.63 L225,525.59 L226.6,524.79 L228.2,524.43 L229.8,524.36 L231.4,524.65 L233,524.44 L234.6,525.05 L236.2,527.1 L237.8,526.67 L239.4,526.63 L241,526.06 L242.6,526.41 L244.2,525.06 L245.8,526.42 L247.4,526.04 L249,526.46 L250.6,527.76 L252.2,527.84 L253.8,528.24 L255.4,529.41 L257,530.43 L258.6,530.76 L260.2,530.86 L261.8,532.24 L263.4,532.53 L265,532.17 L266.6,532.9 L268.2,531.82 L269.8,531.97 L271.4,532.4 L273,532.17 L274.6,531.64 L276.2,532.01 L277.8,531.58 L279.4,531.31 L281,530.62 L282.6,531.71 L284.2,530.87 L285.8,531.47 L287.4,531.13 L289,530.36 L290.6,530.62 L292.2,530.7 L293.8,530.72 L295.4,529.73 L297,530.27 L298.6,531.21 L300.2,531.51 L301.8,532.09 L303.4,532.83 L305,532.54 L306.6,533.54 L308.2,531.72 L309.8,531.67 L311.4,530.12 L313,531.67 L314.6,532.08 L316.2,533.48 L317.8,532.89 L319.4,531.37 L321,532.82 L322.6,531.78 L324.2,531.26 L325.8,531.74 L327.4,532.57 L329,532.23 L330.6,532.52 L332.2,531.24 L333.8,533.06 L335.4,532.81 L337,532.8 L338.6,533.12 L340.2,533 L341.8,532.96 L343.4,532.15 L345,532.27 L346.6,532.73 L348.2,533.4 L349.8,532.96 L351.4,532.86 L353,532.98 L354.6,533.21 L356.2,533.08 L357.8,533.73 L359.4,538.88 L361,541.78 L362.6,535.85 L364.2,532.32 L365.8,534.64 L367.4,534.11 L369,533.81 L370.6,533.16 L372.2,532 L373.8,532.88 L375.4,532.51 L377,532.42 L378.6,533.07 L380.2,533.42 L381.8,533.09 L383.4,532.76 L385,534.04 L386.6,533.69 L388.2,532.39 L389.8,532.93 L391.4,532.82 L393,532.68 L394.6,533.08 L396.2,532.99 L397.8,534.19 L399.4,533.6 L401,533.32 L402.6,533.82 L404.2,532.88 L405.8,533.47 L407.4,533.03 L409,533.67 L410.6,532.59 L412.2,532.89 L413.8,531.64 L415.4,531.76 L417,532.15 L418.6,532.7 L420.2,534.04 L421.8,534.68 L423.4,532.8 L425,532.18 L426.6,533.25 L428.2,533.26 L429.8,532.01 L431.4,532.61 L433,531.82 L434.6,531.57 L436.2,531.15 L437.8,531.62 L439.4,533.64 L441,533.43 L442.6,532.98 L444.2,534.57 L445.8,533.36 L447.4,532.91 L449,532.59 L450.6,532.89 L452.2,532.54 L453.8,533.59 L455.4,532.94 L457,533.18 L458.6,533.08 L460.2,532.26 L461.8,531.67 L463.4,531.94 L465,530.49 L466.6,531.27 L468.2,531.71 L469.8,531.96 L471.4,531.91 L473,532.15 L474.6,531.75 L476.2,532.19 L477.8,530.81 L479.4,531.79 L481,531.05 L482.6,531.55 L484.2,531.13 L485.8,530.89 L487.4,530.47 L489,531.69 L490.6,530.63 L492.2,529.92 L493.8,530.49 L495.4,530.79 L497,530.77 L498.6,530.02 L500.2,529.78 L501.8,530.7 L503.4,529.82 L505,530.44 L506.6,530.83 L508.2,530.59 L509.8,529.47 L511.4,531 L513,530.56 L514.6,530.33 L516.2,529.77 L517.8,529.05 L519.4,529.19 L521,529.6 L522.6,529.12 L524.2,529.53 L525.8,530.49 L527.4,530.54 L529,530.2 L530.6,530.83 L532.2,531.1 L533.8,531.24 L535.4,526.44 L537,518.54 L538.6,522.01 L540.2,525.96 L541.8,525.44 L543.4,525.7 L545,525.29 L546.6,524.96 L548.2,526.46 L549.8,524.92 L551.4,525.77 L553,526.35 L554.6,527.21 L556.2,526.62 L557.8,526.47 L559.4,525.4 L561,525.56 L562.6,524.27 L564.2,524.7 L565.8,525.38 L567.4,525.78 L569,525.8 L570.6,527.03 L572.2,525.86 L573.8,526.49 L575.4,526.2 L577,526.11 L578.6,525.93 L580.2,527 L581.8,525.34 L583.4,525.96 L585,526.2 L586.6,525.12 L588.2,524.04 L589.8,523.49 L591.4,523.74 L593,526.1 L594.6,524.67 L596.2,525.91 L597.8,525.99 L599.4,528.05 L601,528.28 L602.6,527.45 L604.2,527.56 L605.8,528.21 L607.4,528.61 L609,528.19 L610.6,528.36 L612.2,528.1 L613.8,528.52 L615.4,528.52 L617,528.4 L618.6,527.68 L620.2,528.15 L621.8,527.38 L623.4,526.68 L625,526.48 L626.6,526.36 L628.2,526.22 L629.8,524.92 L631.4,526.4 L633,526.62 L634.6,527.14 L636.2,526.14 L637.8,526.3 L639.4,526.04 L641,525.82 L642.6,526.93 L644.2,525.87 L645.8,526.11 L647.4,524.63 L649,525.41 L650.6,525.33 L652.2,524.7 L653.8,524.65 L655.4,523.56 L657,523.69 L658.6,524.62 L660.2,523.18 L661.8,524.98 L663.4,525.89 L665,525.19 L666.6,524.3 L668.2,523.84 L669.8,523.65 L671.4,523.9 L673,526.06 L674.6,524.93 L676.2,525.61 L677.8,526.31 L679.4,525.15 L681,524.97 L682.6,525.51 L684.2,524.87 L685.8,525.83 L687.4,526.96 L689,526.04 L690.6,524.98 L692.2,525.37 L693.8,525.39 L695.4,524.63 L697,524.69 L698.6,524.9 L700.2,525.31 L701.8,526.01 L703.4,525.27 L705,524.31 L706.6,523.57 L708.2,525.6 L709.8,525.15 L711.4,524.93 L713,526.82 L714.6,526.94 L716.2,527.81 L717.8,526.61 L719.4,525.61 L721,525.18 L722.6,525.79 L724.2,525.95 L725.8,525.98 L727.4,527.29 L729,527.35 L730.6,525.66 L732.2,525.78 L733.8,525.94 L735.4,525.07 L737,526.72 L738.6,526.62 L740.2,526.97 L741.8,525.72 L743.4,524.58 L745,525.26 L746.6,524.96 L748.2,524.5 L749.8,524.58 L751.4,524.81 L753,524.88 L754.6,524.65 L756.2,524.98 L757.8,526.84 L759.4,526.64 L761,525.34 L762.6,526.39 L764.2,525.18 L765.8,523.75 L767.4,523.06 L769,522.21 L770.6,523.95 L772.2,523.32 L773.8,522.72 L775.4,522.98 L777,523.36 L778.6,522.82 L780.2,522.97 L781.8,523.4 L783.4,524.05 L785,523.26 L786.6,523.83 L788.2,523.9 L789.8,524.11 L791.4,523.42 L793,522.56 L794.6,523.54 L796.2,523.78 L797.8,522.99 L799.4,522.44 L801,523.14 L802.6,524.41 L804.2,523.91 L805.8,525.12 L807.4,524.19 L809,523.66 L810.6,523.6 L812.2,524.03 L813.8,522.49 L815.4,522.84 L817,523.85 L818.6,522.46 L820.2,523 L821.8,523.69 L823.4,524.79 L825,525.33 L826.6,524.54 L828.2,525.62 L829.8,524.02 L831.4,522.97 L833,524.35 L834.6,524.69 L836.2,523.64 L837.8,524.62 L839.4,524.9 L841,524.91 L842.6,524.06 L844.2,522.97 L845.8,522.04 L847.4,522.53 L849,522.8 L850.6,522.66 L852.2,522.51 L853.8,523.44 L855.4,522.46 L857,522.16 L858.6,523.88 L860.2,522.94 L861.8,522.38 L863.4,523.24 L865,521.65 L866.6,523.18 L868.2,521.98 L869.8,521.62 L871.4,521.09 L873,521.02 L874.6,521.12 L876.2,522.34 L877.8,522.3 L879.4,523.27 L881,523.38 L882.6,522 L884.2,522.12 L885.8,521.73 L887.4,521.63 L889,521.95 L890.6,522.29 L892.2,522.51 L893.8,520.81 L895.4,521.28 L897,521.34 L898.6,523.01 L900.2,522.47 L901.8,522.32 L903.4,522.27 L905,522.8 L906.6,521.74 L908.2,521.89 L909.8,521.98 L911.4,522.11 L913,522.02 L914.6,521.78 L916.2,522.1 L917.8,521.29 L919.4,522.92 L921,522.68 L922.6,521.28 L924.2,521.6 L925.8,522.66 L927.4,522.43 L929,522.35 L930.6,520.81 L932.2,522.58 L933.8,522.61 L935.4,521.2 L937,521.5 L938.6,523.02" fill="none" stroke="#44AD3A" stroke-width="4" stroke-linejoin="round" stroke-linecap="round" />
</g>
<rect x="328.75" y="65.75" width="486.25" height="330.25" fill="#fff"/>
<line x1="328.75" y1="65.75" x2="815" y2="65.75" stroke="#111" stroke-width="1.6"/>
<line x1="815" y1="65.75" x2="815" y2="396" stroke="#111" stroke-width="1.6"/>
<line x1="328.75" y1="65.75" x2="328.75" y2="396" stroke="#111" stroke-width="1.6"/>
<line x1="320.75" y1="396" x2="815" y2="396" stroke="#111" stroke-width="1.6"/>
<line x1="320.75" y1="396" x2="334.75" y2="396" stroke="#111" stroke-width="1.6"/>
<text x="307.5" y="404.5" font-size="25" text-anchor="end" >0.00</text>
<line x1="320.75" y1="285.92" x2="334.75" y2="285.92" stroke="#111" stroke-width="1.6"/>
<text x="307.5" y="294.42" font-size="25" text-anchor="end" >0.30</text>
<line x1="320.75" y1="175.83" x2="334.75" y2="175.83" stroke="#111" stroke-width="1.6"/>
<text x="307.5" y="184.33" font-size="25" text-anchor="end" >0.60</text>
<line x1="320.75" y1="65.75" x2="334.75" y2="65.75" stroke="#111" stroke-width="1.6"/>
<text x="307.5" y="74.25" font-size="25" text-anchor="end" >0.90</text>
<line x1="328.75" y1="359.31" x2="334.25" y2="359.31" stroke="#111" stroke-width="1.6"/>
<line x1="328.75" y1="322.61" x2="334.25" y2="322.61" stroke="#111" stroke-width="1.6"/>
<line x1="328.75" y1="249.22" x2="334.25" y2="249.22" stroke="#111" stroke-width="1.6"/>
<line x1="328.75" y1="212.53" x2="334.25" y2="212.53" stroke="#111" stroke-width="1.6"/>
<line x1="328.75" y1="139.14" x2="334.25" y2="139.14" stroke="#111" stroke-width="1.6"/>
<line x1="328.75" y1="102.44" x2="334.25" y2="102.44" stroke="#111" stroke-width="1.6"/>
<line x1="328.75" y1="390" x2="328.75" y2="404" stroke="#111" stroke-width="1.6"/>
<text x="328.75" y="434" font-size="25" text-anchor="middle" >0</text>
<line x1="426" y1="390" x2="426" y2="404" stroke="#111" stroke-width="1.6"/>
<text x="426" y="434" font-size="25" text-anchor="middle" >20</text>
<line x1="523.25" y1="390" x2="523.25" y2="404" stroke="#111" stroke-width="1.6"/>
<text x="523.25" y="434" font-size="25" text-anchor="middle" >40</text>
<line x1="620.5" y1="390" x2="620.5" y2="404" stroke="#111" stroke-width="1.6"/>
<text x="620.5" y="434" font-size="25" text-anchor="middle" >60</text>
<line x1="717.75" y1="390" x2="717.75" y2="404" stroke="#111" stroke-width="1.6"/>
<text x="717.75" y="434" font-size="25" text-anchor="middle" >80</text>
<line x1="815" y1="390" x2="815" y2="404" stroke="#111" stroke-width="1.6"/>
<text x="815" y="434" font-size="25" text-anchor="middle" >100</text>
<line x1="377.38" y1="390" x2="377.38" y2="396" stroke="#111" stroke-width="1.6"/>
<line x1="474.62" y1="390" x2="474.62" y2="396" stroke="#111" stroke-width="1.6"/>
<line x1="571.88" y1="390" x2="571.88" y2="396" stroke="#111" stroke-width="1.6"/>
<line x1="669.12" y1="390" x2="669.12" y2="396" stroke="#111" stroke-width="1.6"/>
<line x1="766.38" y1="390" x2="766.38" y2="396" stroke="#111" stroke-width="1.6"/>
<text x="573" y="470" font-size="25.5" text-anchor="middle" >Time / s</text>
<text transform="translate(233.3,226) rotate(-90)" font-size="25" text-anchor="middle">Current density / mA·cm<tspan dy="-7.5" font-size="16">-2</tspan></text>
<clipPath id="clipI"><rect x="325.75" y="65.75" width="489.25" height="330.25"/></clipPath>
<g clip-path="url(#clipI)">
<path d="M327.75,327.01 C328.25,328.45 329.55,332.39 330.77,335.62 C331.99,338.85 333.28,343.16 335.07,346.39 C336.87,349.62 339.02,352.85 341.53,355 C344.05,357.16 346.56,358.23 350.15,359.31 C353.74,360.39 357.32,360.89 363.07,361.46 C368.81,362.04 377.42,362.33 384.6,362.76 C391.78,363.19 395.37,363.55 406.13,364.05 C416.9,364.55 434.84,365.41 449.2,365.77 C463.55,366.13 477.91,366.06 492.27,366.2 C506.62,366.35 520.98,366.49 535.33,366.63 C549.69,366.78 564.04,366.85 578.4,367.06 C592.75,367.28 607.11,367.71 621.46,367.92 C635.82,368.14 650.18,368.21 664.53,368.35 C678.89,368.5 693.24,368.71 707.6,368.79 C721.95,368.86 732.72,368.71 750.66,368.79 C768.61,368.86 804.5,369.14 815.26,369.22" fill="none" stroke="#7F7F7F" stroke-width="4.5" stroke-linejoin="round" stroke-linecap="round" />
<path d="M327.75,309.78 C328.18,304.76 329.47,286.96 330.34,279.64 C331.2,272.32 332.06,267.87 332.92,265.86 C333.78,263.85 334.07,265.28 335.5,267.58 C336.94,269.88 338.37,275.12 341.53,279.64 C344.69,284.16 349.43,290.4 354.45,294.71 C359.48,299.02 366.66,302.25 371.68,305.48 C376.7,308.71 378.86,311.22 384.6,314.09 C390.34,316.96 398.95,320.19 406.13,322.7 C413.31,325.22 420.49,327.01 427.67,329.16 C434.84,331.32 442.02,333.69 449.2,335.62 C456.38,337.56 463.55,339.36 470.73,340.79 C477.91,342.23 485.09,343.3 492.27,344.24 C499.44,345.17 506.62,345.67 513.8,346.39 C520.98,347.11 524.57,347.47 535.33,348.54 C546.1,349.62 564.04,351.56 578.4,352.85 C592.75,354.14 607.11,355.43 621.46,356.3 C635.82,357.16 650.18,357.3 664.53,358.02 C678.89,358.74 693.24,359.81 707.6,360.6 C721.95,361.39 732.72,362.11 750.66,362.76 C768.61,363.4 804.5,364.19 815.26,364.48" fill="none" stroke="#FFC000" stroke-width="4.5" stroke-linejoin="round" stroke-linecap="round" />
<path d="M327.75,253.8 C328.04,243.03 328.83,209.3 329.47,189.2 C330.12,169.1 330.91,144.7 331.63,133.21 C332.35,121.73 332.99,120.29 333.78,120.29 C334.57,120.29 335.43,126.75 336.37,133.21 C337.3,139.67 337.8,148.29 339.38,159.05 C340.96,169.82 343.33,186.33 345.84,197.81 C348.35,209.3 350.86,218.63 354.45,227.96 C358.04,237.29 362.35,246.62 367.37,253.8 C372.4,260.98 378.14,265.64 384.6,271.02 C391.06,276.41 398.95,281.43 406.13,286.1 C413.31,290.76 420.49,295.07 427.67,299.02 C434.84,302.97 442.02,306.91 449.2,309.78 C456.38,312.66 463.55,314.45 470.73,316.24 C477.91,318.04 487.24,320.34 492.27,320.55 C497.29,320.77 498.58,317.9 500.88,317.54 C503.18,317.18 504.25,317.39 506.05,318.4 C507.84,319.4 508.92,322.49 511.65,323.57 C514.37,324.64 518.46,323.92 522.41,324.86 C526.36,325.79 529.59,327.73 535.33,329.16 C541.07,330.6 549.69,332.04 556.86,333.47 C564.04,334.91 571.22,336.7 578.4,337.78 C585.58,338.85 592.75,339.21 599.93,339.93 C607.11,340.65 615.36,341.37 621.46,342.08 C627.57,342.8 632.95,344.96 636.54,344.24 C640.13,343.52 640.84,338.35 643,337.78 C645.15,337.2 645.87,339.72 649.46,340.79 C653.05,341.87 658.43,343.45 664.53,344.24 C670.63,345.03 678.89,345.1 686.06,345.53 C693.24,345.96 696.83,346.32 707.6,346.82 C718.36,347.32 739.18,348.26 750.66,348.54 C762.15,348.83 770.76,348.98 776.5,348.54 C782.25,348.11 782.6,345.82 785.12,345.96 C787.63,346.1 786.55,348.4 791.58,349.41 C796.6,350.41 811.31,351.56 815.26,351.99" fill="none" stroke="#FF0000" stroke-width="4.5" stroke-linejoin="round" stroke-linecap="round" />
<path d="M327.75,292.56 C328.11,282.51 329.19,248.06 329.91,232.27 C330.62,216.47 331.34,204.63 332.06,197.81 C332.78,190.99 333.35,190.63 334.21,191.35 C335.07,192.07 336.01,197.45 337.23,202.12 C338.45,206.78 339.74,213.24 341.53,219.35 C343.33,225.45 345.84,232.98 347.99,238.73 C350.15,244.47 351.94,249.13 354.45,253.8 C356.97,258.46 358.04,261.69 363.07,266.72 C368.09,271.74 377.42,278.92 384.6,283.94 C391.78,288.97 398.95,292.7 406.13,296.86 C413.31,301.03 421.92,305.62 427.67,308.92 C433.41,312.23 435.56,314.95 440.59,316.68 C445.61,318.4 450.63,318.4 457.81,319.26 C464.99,320.12 476.47,320.69 483.65,321.84 C490.83,322.99 497.07,324.71 500.88,326.15 C504.68,327.59 504.32,330.17 506.48,330.46 C508.63,330.74 508.99,328.09 513.8,327.87 C518.61,327.66 528.15,328.23 535.33,329.16 C542.51,330.1 549.69,332.39 556.86,333.47 C564.04,334.55 571.22,334.69 578.4,335.62 C585.58,336.56 592.75,337.99 599.93,339.07 C607.11,340.15 614.29,341.22 621.46,342.08 C628.64,342.95 635.82,343.52 643,344.24 C650.18,344.96 657.35,346.03 664.53,346.39 C671.71,346.75 678.89,346.18 686.06,346.39 C693.24,346.61 696.83,347.32 707.6,347.68 C718.36,348.04 736.31,348.26 750.66,348.54 C765.02,348.83 782.96,349.05 793.73,349.41 C804.5,349.76 811.67,350.48 815.26,350.7" fill="none" stroke="#0070C0" stroke-width="4.5" stroke-linejoin="round" stroke-linecap="round" />
<path d="M327.75,327.01 C328.25,325.93 329.76,321.99 330.77,320.55 C331.77,319.12 332.85,318.4 333.78,318.4 C334.71,318.4 335.43,318.54 336.37,320.55 C337.3,322.56 336.37,327.94 339.38,330.46 C342.39,332.97 349.07,334.19 354.45,335.62 C359.84,337.06 365.94,338.5 371.68,339.07 C377.42,339.64 383.16,338.78 388.91,339.07 C394.65,339.36 399.67,340.07 406.13,340.79 C412.59,341.51 420.49,342.66 427.67,343.38 C434.84,344.09 438.43,344.6 449.2,345.1 C459.97,345.6 481.5,345.82 492.27,346.39 C503.03,346.97 506.62,348.04 513.8,348.54 C520.98,349.05 528.15,349.05 535.33,349.41 C542.51,349.76 549.69,350.27 556.86,350.7 C564.04,351.13 567.63,351.42 578.4,351.99 C589.16,352.56 607.11,353.78 621.46,354.14 C635.82,354.5 653.76,353.93 664.53,354.14 C675.3,354.36 680.32,354.93 686.06,355.43 C691.81,355.94 691.81,357.16 698.98,357.16 C706.16,357.16 720.52,355.58 729.13,355.43 C737.74,355.29 743.49,356.01 750.66,356.3 C757.84,356.58 765.02,357.3 772.2,357.16 C779.37,357.01 786.55,355.58 793.73,355.43 C800.91,355.29 811.67,356.15 815.26,356.3" fill="none" stroke="#44AD3A" stroke-width="4.5" stroke-linejoin="round" stroke-linecap="round" />
</g>
<text x="543.5" y="698" font-size="31.5" text-anchor="middle" >Time / s</text>
<text transform="translate(37,311) rotate(-90)" font-size="31" text-anchor="middle">Current density / mA·cm<tspan dy="-9.5" font-size="20">-2</tspan></text>
<text x="577" y="759.5" font-size="37" text-anchor="middle" >(a)</text>
<line x1="970.5" y1="199.2" x2="1029.5" y2="199.2" stroke="#FF0000" stroke-width="5" stroke-linecap="round"/>
<text x="1038" y="210.2" font-size="31" text-anchor="start" >10 mM</text>
<line x1="970.5" y1="258.2" x2="1029.5" y2="258.2" stroke="#0070C0" stroke-width="5" stroke-linecap="round"/>
<text x="1038" y="269.2" font-size="31" text-anchor="start" >5 mM</text>
<line x1="970.5" y1="317.2" x2="1029.5" y2="317.2" stroke="#FFC000" stroke-width="5" stroke-linecap="round"/>
<text x="1038" y="328.2" font-size="31" text-anchor="start" >3 mM</text>
<line x1="970.5" y1="376.2" x2="1029.5" y2="376.2" stroke="#44AD3A" stroke-width="5" stroke-linecap="round"/>
<text x="1038" y="387.2" font-size="31" text-anchor="start" >1 mM</text>
<line x1="970.5" y1="435.2" x2="1029.5" y2="435.2" stroke="#A5A5A5" stroke-width="5" stroke-linecap="round"/>
<text x="1038" y="446.2" font-size="31" text-anchor="start" >0.5 mM</text>
<line x1="162.6" y1="811.2" x2="854.6" y2="811.2" stroke="#111" stroke-width="1.5"/>
<line x1="854.6" y1="811.2" x2="854.6" y2="1407.8" stroke="#111" stroke-width="1.5"/>
<line x1="162.6" y1="811.2" x2="162.6" y2="1407.8" stroke="#111" stroke-width="1.5"/>
<line x1="153.3" y1="1398.8" x2="854.6" y2="1398.8" stroke="#111" stroke-width="1.5"/>
<line x1="153.3" y1="1398.8" x2="170.1" y2="1398.8" stroke="#111" stroke-width="1.5"/>
<text x="136" y="1408.8" font-size="31" text-anchor="end" >0.00</text>
<line x1="153.3" y1="1314.86" x2="170.1" y2="1314.86" stroke="#111" stroke-width="1.5"/>
<text x="136" y="1324.86" font-size="31" text-anchor="end" >0.02</text>
<line x1="153.3" y1="1230.91" x2="170.1" y2="1230.91" stroke="#111" stroke-width="1.5"/>
<text x="136" y="1240.91" font-size="31" text-anchor="end" >0.04</text>
<line x1="153.3" y1="1146.97" x2="170.1" y2="1146.97" stroke="#111" stroke-width="1.5"/>
<text x="136" y="1156.97" font-size="31" text-anchor="end" >0.06</text>
<line x1="153.3" y1="1063.03" x2="170.1" y2="1063.03" stroke="#111" stroke-width="1.5"/>
<text x="136" y="1073.03" font-size="31" text-anchor="end" >0.08</text>
<line x1="153.3" y1="979.09" x2="170.1" y2="979.09" stroke="#111" stroke-width="1.5"/>
<text x="136" y="989.09" font-size="31" text-anchor="end" >0.10</text>
<line x1="153.3" y1="895.14" x2="170.1" y2="895.14" stroke="#111" stroke-width="1.5"/>
<text x="136" y="905.14" font-size="31" text-anchor="end" >0.12</text>
<line x1="153.3" y1="811.2" x2="170.1" y2="811.2" stroke="#111" stroke-width="1.5"/>
<text x="136" y="821.2" font-size="31" text-anchor="end" >0.14</text>
<line x1="162.6" y1="1356.83" x2="170.1" y2="1356.83" stroke="#111" stroke-width="1.5"/>
<line x1="162.6" y1="1272.89" x2="170.1" y2="1272.89" stroke="#111" stroke-width="1.5"/>
<line x1="162.6" y1="1188.94" x2="170.1" y2="1188.94" stroke="#111" stroke-width="1.5"/>
<line x1="162.6" y1="1105" x2="170.1" y2="1105" stroke="#111" stroke-width="1.5"/>
<line x1="162.6" y1="1021.06" x2="170.1" y2="1021.06" stroke="#111" stroke-width="1.5"/>
<line x1="162.6" y1="937.11" x2="170.1" y2="937.11" stroke="#111" stroke-width="1.5"/>
<line x1="162.6" y1="853.17" x2="170.1" y2="853.17" stroke="#111" stroke-width="1.5"/>
<line x1="162.6" y1="1391.8" x2="162.6" y2="1407.8" stroke="#111" stroke-width="1.5"/>
<text x="162.6" y="1444.5" font-size="31" text-anchor="middle" >-0.9</text>
<line x1="277.93" y1="1391.8" x2="277.93" y2="1407.8" stroke="#111" stroke-width="1.5"/>
<text x="277.93" y="1444.5" font-size="31" text-anchor="middle" >-0.6</text>
<line x1="393.27" y1="1391.8" x2="393.27" y2="1407.8" stroke="#111" stroke-width="1.5"/>
<text x="393.27" y="1444.5" font-size="31" text-anchor="middle" >-0.3</text>
<line x1="508.6" y1="1391.8" x2="508.6" y2="1407.8" stroke="#111" stroke-width="1.5"/>
<text x="508.6" y="1444.5" font-size="31" text-anchor="middle" >0.0</text>
<line x1="623.93" y1="1391.8" x2="623.93" y2="1407.8" stroke="#111" stroke-width="1.5"/>
<text x="623.93" y="1444.5" font-size="31" text-anchor="middle" >0.3</text>
<line x1="739.27" y1="1391.8" x2="739.27" y2="1407.8" stroke="#111" stroke-width="1.5"/>
<text x="739.27" y="1444.5" font-size="31" text-anchor="middle" >0.6</text>
<line x1="854.6" y1="1391.8" x2="854.6" y2="1407.8" stroke="#111" stroke-width="1.5"/>
<text x="854.6" y="1444.5" font-size="31" text-anchor="middle" >0.9</text>
<line x1="201.04" y1="1392.3" x2="201.04" y2="1398.8" stroke="#111" stroke-width="1.5"/>
<line x1="239.49" y1="1392.3" x2="239.49" y2="1398.8" stroke="#111" stroke-width="1.5"/>
<line x1="316.38" y1="1392.3" x2="316.38" y2="1398.8" stroke="#111" stroke-width="1.5"/>
<line x1="354.82" y1="1392.3" x2="354.82" y2="1398.8" stroke="#111" stroke-width="1.5"/>
<line x1="431.71" y1="1392.3" x2="431.71" y2="1398.8" stroke="#111" stroke-width="1.5"/>
<line x1="470.16" y1="1392.3" x2="470.16" y2="1398.8" stroke="#111" stroke-width="1.5"/>
<line x1="547.04" y1="1392.3" x2="547.04" y2="1398.8" stroke="#111" stroke-width="1.5"/>
<line x1="585.49" y1="1392.3" x2="585.49" y2="1398.8" stroke="#111" stroke-width="1.5"/>
<line x1="662.38" y1="1392.3" x2="662.38" y2="1398.8" stroke="#111" stroke-width="1.5"/>
<line x1="700.82" y1="1392.3" x2="700.82" y2="1398.8" stroke="#111" stroke-width="1.5"/>
<line x1="777.71" y1="1392.3" x2="777.71" y2="1398.8" stroke="#111" stroke-width="1.5"/>
<line x1="816.16" y1="1392.3" x2="816.16" y2="1398.8" stroke="#111" stroke-width="1.5"/>
<clipPath id="clipB"><rect x="162.6" y="811.2" width="692.0" height="588.5999999999999"/></clipPath>
<g clip-path="url(#clipB)">
<path d="M235.8,1398.8 L235.8,1388.21 L237,1388.59 L239.9,1388.85 L244.4,1389.05 L244.4,1405.1 L246.9,1405.05 L249.4,1404.93 L251.9,1404.81 L254.4,1404.69 L256.9,1404.57 L259.4,1404.45 L261.9,1404.33 L264.4,1404.2 L266.6,1404.1 L266.6,1354.63 L267.8,1355.58 L270.7,1356.23 L274.3,1356.73 L274.3,1402.92 L276.8,1401.93 L279.3,1400.94 L281.8,1399.95 L284.3,1398.96 L286.8,1397.97 L289.3,1396.98 L291.8,1395.95 L294.3,1394.9 L296.8,1393.85 L297.7,1393.47 L297.7,1317.7 L298.9,1319.21 L301.8,1320.25 L305.4,1321.05 L305.4,1390.24 L307.9,1389.19 L310.4,1389.03 L312.9,1388.92 L315.4,1388.8 L317.9,1388.68 L320.4,1388.57 L322.9,1388.45 L325.4,1388.34 L328.2,1388.15 L328.2,1286.22 L329.4,1287.73 L332.3,1288.77 L335.9,1289.58 L335.9,1387.61 L338.4,1387.44 L340.9,1387.26 L343.4,1387.09 L345.9,1386.92 L348.4,1386.74 L350.9,1386.61 L353.4,1386.58 L355.9,1386.54 L358.7,1386.5 L358.7,1230.82 L359.9,1232.7 L362.8,1234.01 L366.4,1235.01 L366.4,1386.38 L368.9,1386.34 L371.4,1386.31 L373.9,1386.27 L376.4,1386.23 L378.9,1386.26 L381.4,1386.39 L383.9,1386.52 L386.4,1386.65 L389.4,1386.81 L389.4,1195.14 L390.6,1197.03 L393.5,1198.33 L397.1,1199.34 L397.1,1387.21 L399.6,1387.34 L402.1,1387.47 L404.6,1387.6 L407.1,1387.74 L409.6,1387.87 L412.1,1387.95 L414.6,1388.02 L417.1,1388.09 L419.9,1388.16 L419.9,1155.27 L421.1,1157.16 L424,1158.46 L427.6,1159.46 L427.6,1388.38 L430.1,1388.45 L432.6,1388.52 L435.1,1388.59 L437.6,1388.66 L440.1,1388.73 L442.6,1388.8 L445.1,1388.87 L447.6,1388.94 L450.1,1389.01 L451.6,1389.05 L451.6,1100.7 L452.8,1102.59 L455.7,1103.89 L459.3,1104.9 L459.3,1389.27 L461.8,1389.34 L464.3,1389.41 L466.8,1389.48 L469.3,1389.55 L471.8,1389.6 L474.3,1389.66 L476.8,1389.71 L479.3,1389.76 L481.8,1389.81 L482.5,1389.83 L482.5,1052.44 L483.7,1054.33 L486.6,1055.63 L490.2,1056.63 L490.2,1389.99 L492.7,1390.04 L495.2,1390.1 L497.7,1390.15 L500.2,1390.2 L502.7,1390.25 L505.2,1390.3 L507.7,1390.36 L510.2,1390.41 L512.7,1390.46 L515.2,1390.51 L517,1390.55 L517,1008.79 L518.2,1011.43 L521.1,1013.25 L524.7,1014.66 L524.7,1390.71 L527.2,1390.77 L529.7,1390.82 L532.2,1390.87 L534.7,1390.92 L537.2,1390.98 L539.7,1391.03 L542.2,1391.08 L544.7,1391.13 L547.2,1391.19 L547.2,966.4 L548.4,968.28 L551.3,969.59 L554.9,970.59 L554.9,1391.27 L557.4,1391.28 L559.9,1391.29 L562.4,1391.3 L564.9,1391.31 L567.4,1391.32 L569.9,1391.33 L572.4,1391.34 L574.9,1391.35 L577.4,1391.36 L578.2,1391.36 L578.2,939.11 L579.4,939.11 L582.3,939.11 L585.9,939.11 L585.9,1391.4 L588.4,1391.41 L590.9,1391.42 L593.4,1391.43 L595.9,1391.44 L598.4,1391.45 L600.9,1391.46 L603.4,1391.47 L605.9,1391.48 L608.4,1391.49 L609.1,1391.49 L609.1,911.83 L610.3,905.22 L613.2,900.67 L616.8,897.14 L616.8,1391.53 L619.3,1391.54 L621.8,1391.55 L624.3,1391.56 L626.8,1391.57 L629.3,1391.58 L631.8,1391.59 L634.3,1391.6 L636.8,1391.61 L639.5,1391.62 L639.5,875.74 L640.7,876.87 L643.6,877.65 L647.2,878.26 L647.2,1391.65 L649.7,1391.66 L652.2,1391.67 L654.7,1391.68 L657.2,1391.7 L659.7,1391.71 L662.2,1391.72 L664.7,1391.73 L667.2,1391.74 L670.2,1391.75 L670.2,854.33 L671.4,855.47 L674.3,856.25 L677.9,856.85 L677.9,1391.78 L680.4,1391.79 L682.9,1391.8 L685.4,1391.81 L687.9,1391.82 L690.4,1391.83 L692.9,1391.84 L695.4,1391.86 L697.9,1391.87 L700.4,1391.88 L701.5,1391.88 L701.5,834.19 L702.7,835.7 L705.6,836.74 L709.2,837.54 L709.2,1391.91 L711.7,1391.92 L714.2,1391.93 L716.7,1391.94 L719.2,1391.96 L721.7,1391.97 L724.2,1391.98 L726.7,1391.99 L729.2,1392 L731.6,1392.01 L731.6,824.53 L732.8,827.55 L735.7,829.64 L739.3,831.25 L739.3,1392.04 L741.8,1392.05 L744.3,1392.06 L746.8,1392.07 L749.3,1392.08 L751.8,1392.09 L754.3,1392.1 L756.8,1392.11 L759.3,1392.12 L761.8,1392.13 L762.9,1392.14 L762.9,825.79 L764.1,826.74 L767,827.39 L770.6,827.89 L770.6,1392.17 L773.1,1392.18 L775.6,1392.19 L778.1,1392.2 L780.6,1392.21 L783.1,1392.22 L785.6,1392.23 L788.1,1392.24 L790.6,1392.25 L793.6,1392.27 L793.6,822.01 L794.8,822.77 L797.7,823.29 L801.3,823.69 L801.3,1392.3 L803.8,1392.31 L806.3,1392.32 L808.8,1392.33 L811.3,1392.34 L813.8,1392.35 L816.3,1392.36 L818.8,1392.37 L821.3,1392.38 L824.3,1392.4 L824.3,820.75 L827.3,824.53 L829.8,829.15" fill="none" stroke="#FF0000" stroke-width="5" stroke-linejoin="round" stroke-linecap="round" />
<path d="M235.8,1398.8 L235.8,1392.41 L237,1392.78 L239.9,1393.04 L244.4,1393.25 L244.4,1405.1 L246.9,1405.06 L249.4,1404.98 L251.9,1404.89 L254.4,1404.8 L256.9,1404.71 L259.4,1404.63 L261.9,1404.54 L264.4,1404.45 L266.6,1404.38 L266.6,1363.03 L267.8,1363.97 L270.7,1364.62 L274.3,1365.12 L274.3,1404.11 L276.8,1404.02 L279.3,1403.93 L281.8,1403.84 L284.3,1403.3 L286.8,1402.72 L289.3,1402.13 L291.8,1401.55 L294.3,1400.97 L296.8,1400.39 L297.7,1400.18 L297.7,1312.66 L298.9,1313.6 L301.8,1314.25 L305.4,1314.76 L305.4,1398.73 L307.9,1398.31 L310.4,1397.89 L312.9,1397.47 L315.4,1397.1 L317.9,1396.96 L320.4,1396.82 L322.9,1396.68 L325.4,1396.54 L328.2,1396.38 L328.2,1255.16 L329.4,1256.48 L332.3,1257.39 L335.9,1258.1 L335.9,1392.32 L338.4,1390.64 L340.9,1389.55 L343.4,1389.49 L345.9,1389.44 L348.4,1389.38 L350.9,1389.33 L353.4,1389.27 L355.9,1389.22 L358.7,1389.15 L358.7,1203.53 L359.9,1205.42 L362.8,1206.72 L366.4,1207.73 L366.4,1388.98 L368.9,1388.93 L371.4,1388.87 L373.9,1388.82 L376.4,1388.76 L378.9,1388.75 L381.4,1388.82 L383.9,1388.88 L386.4,1388.95 L389.4,1389.03 L389.4,1164.5 L390.6,1166.01 L393.5,1167.05 L397.1,1167.86 L397.1,1389.23 L399.6,1389.29 L402.1,1389.36 L404.6,1389.42 L407.1,1389.49 L409.6,1389.56 L412.1,1389.6 L414.6,1389.63 L417.1,1389.67 L419.9,1389.7 L419.9,1104.06 L421.1,1110.86 L424,1115.55 L427.6,1119.17 L427.6,1389.81 L430.1,1389.85 L432.6,1389.88 L435.1,1389.92 L437.6,1389.95 L440.1,1389.99 L442.6,1390.02 L445.1,1390.06 L447.6,1390.09 L450.1,1390.13 L451.6,1390.15 L451.6,1060.41 L452.8,1065.13 L455.7,1068.39 L459.3,1070.9 L459.3,1390.26 L461.8,1390.29 L464.3,1390.33 L466.8,1390.36 L469.3,1390.4 L471.8,1390.42 L474.3,1390.43 L476.8,1390.44 L479.3,1390.46 L481.8,1390.47 L482.5,1390.47 L482.5,1025.16 L483.7,1026.1 L486.6,1026.75 L490.2,1027.25 L490.2,1390.52 L492.7,1390.53 L495.2,1390.54 L497.7,1390.56 L500.2,1390.57 L502.7,1390.59 L505.2,1390.6 L507.7,1390.61 L510.2,1390.63 L512.7,1390.64 L515.2,1390.66 L517,1390.67 L517,980.25 L518.2,980.81 L521.1,981.2 L524.7,981.51 L524.7,1390.71 L527.2,1390.72 L529.7,1390.74 L532.2,1390.75 L534.7,1390.76 L537.2,1390.78 L539.7,1390.79 L542.2,1390.8 L544.7,1390.82 L547.2,1390.83 L547.2,943.31 L548.4,946.33 L551.3,948.42 L554.9,950.03 L554.9,1390.87 L557.4,1390.89 L559.9,1390.9 L562.4,1390.92 L564.9,1390.93 L567.4,1390.94 L569.9,1390.96 L572.4,1390.97 L574.9,1390.99 L577.4,1391 L578.2,1391 L578.2,919.81 L579.4,923.96 L582.3,926.83 L585.9,929.04 L585.9,1391.05 L588.4,1391.06 L590.9,1391.07 L593.4,1391.09 L595.9,1391.1 L598.4,1391.11 L600.9,1391.13 L603.4,1391.14 L605.9,1391.16 L608.4,1391.17 L609.1,1391.17 L609.1,901.34 L610.3,913.81 L613.2,922.39 L616.8,929.04 L616.8,1391.22 L619.3,1391.23 L621.8,1391.24 L624.3,1391.26 L626.8,1391.27 L629.3,1391.29 L631.8,1391.3 L634.3,1391.31 L636.8,1391.33 L639.5,1391.34 L639.5,880.35 L640.7,889.8 L643.6,896.3 L647.2,901.34 L647.2,1391.38 L649.7,1391.4 L652.2,1391.41 L654.7,1391.43 L657.2,1391.44 L659.7,1391.45 L662.2,1391.47 L664.7,1391.48 L667.2,1391.49 L670.2,1391.51 L670.2,873.64 L671.4,878.74 L674.3,882.25 L677.9,884.97 L677.9,1391.55 L680.4,1391.57 L682.9,1391.58 L685.4,1391.6 L687.9,1391.61 L690.4,1391.62 L692.9,1391.64 L695.4,1391.65 L697.9,1391.66 L700.4,1391.68 L701.5,1391.68 L701.5,867.76 L702.7,873.43 L705.6,877.33 L709.2,880.35 L709.2,1391.73 L711.7,1391.74 L714.2,1391.75 L716.7,1391.77 L719.2,1391.78 L721.7,1391.8 L724.2,1391.81 L726.7,1391.82 L729.2,1391.84 L731.6,1391.85 L731.6,863.57 L732.8,871.12 L735.7,876.33 L739.3,880.35 L739.3,1391.89 L741.8,1391.91 L744.3,1391.92 L746.8,1391.93 L749.3,1391.95 L751.8,1391.96 L754.3,1391.98 L756.8,1391.99 L759.3,1392 L761.8,1392.02 L762.9,1392.02 L762.9,867.76 L764.1,875.32 L767,880.52 L770.6,884.55 L770.6,1392.07 L773.1,1392.08 L775.6,1392.09 L778.1,1392.11 L780.6,1392.12 L783.1,1392.13 L785.6,1392.15 L788.1,1392.16 L790.6,1392.18 L793.6,1392.19 L793.6,867.76 L794.8,875.32 L797.7,880.52 L801.3,884.55 L801.3,1392.24 L803.8,1392.25 L806.3,1392.26 L808.8,1392.28 L811.3,1392.29 L813.8,1392.3 L816.3,1392.32 L818.8,1392.33 L821.3,1392.35 L824.3,1392.36 L824.3,864.82 L827.3,874.65 L829.8,886.65" fill="none" stroke="#FFC000" stroke-width="5" stroke-linejoin="round" stroke-linecap="round" />
<path d="M235.8,1398.8 L235.8,1386.11 L237,1387.05 L239.9,1387.7 L244.4,1388.21 L244.4,1403.84 L246.9,1402.96 L249.4,1400.6 L251.9,1398.77 L254.4,1397.53 L256.9,1396.77 L259.4,1396.01 L261.9,1395.24 L264.4,1394.53 L266.6,1394.1 L266.6,1367.22 L267.8,1368.17 L270.7,1368.82 L274.3,1369.32 L274.3,1392.61 L276.8,1392.12 L279.3,1391.44 L281.8,1390.74 L284.3,1390.04 L286.8,1389.34 L289.3,1388.64 L291.8,1387.94 L294.3,1387.24 L296.8,1386.64 L297.7,1386.44 L297.7,1321.89 L298.9,1323.4 L301.8,1324.45 L305.4,1325.25 L305.4,1384.7 L307.9,1384.13 L310.4,1384 L312.9,1383.88 L315.4,1383.76 L317.9,1383.65 L320.4,1383.53 L322.9,1383.42 L325.4,1383.3 L328.2,1382.96 L328.2,1292.93 L329.4,1294.26 L332.3,1295.17 L335.9,1295.87 L335.9,1381.89 L338.4,1381.54 L340.9,1381.19 L343.4,1380.84 L345.9,1380.49 L348.4,1380.14 L350.9,1379.83 L353.4,1379.61 L355.9,1379.38 L358.7,1379.13 L358.7,1261.87 L359.9,1263.01 L362.8,1263.79 L366.4,1264.39 L366.4,1378.44 L368.9,1378.21 L371.4,1377.99 L373.9,1377.76 L376.4,1377.54 L378.9,1377.42 L381.4,1377.48 L383.9,1377.55 L386.4,1377.61 L389.4,1377.69 L389.4,1234.17 L390.6,1235.5 L393.5,1236.41 L397.1,1237.11 L397.1,1377.9 L399.6,1377.96 L402.1,1378.03 L404.6,1378.09 L407.1,1378.16 L409.6,1378.22 L412.1,1378.29 L414.6,1378.36 L417.1,1378.43 L419.9,1378.51 L419.9,1201.86 L421.1,1203.18 L424,1204.09 L427.6,1204.79 L427.6,1378.73 L430.1,1378.8 L432.6,1378.87 L435.1,1378.94 L437.6,1379.01 L440.1,1379.07 L442.6,1379.04 L445.1,1379 L447.6,1378.97 L450.1,1378.93 L451.6,1378.91 L451.6,1162.82 L452.8,1164.14 L455.7,1165.05 L459.3,1165.76 L459.3,1378.8 L461.8,1378.77 L464.3,1378.73 L466.8,1378.7 L469.3,1378.66 L471.8,1378.7 L474.3,1378.77 L476.8,1378.84 L479.3,1378.91 L481.8,1378.98 L482.5,1379 L482.5,1123.79 L483.7,1127.57 L486.6,1130.17 L490.2,1132.18 L490.2,1379.95 L492.7,1380.37 L495.2,1380.8 L497.7,1381.43 L500.2,1382.06 L502.7,1382.69 L505.2,1383.29 L507.7,1383.5 L510.2,1383.71 L512.7,1383.92 L515.2,1384.13 L517,1384.28 L517,1081.82 L518.2,1087.48 L521.1,1091.39 L524.7,1094.41 L524.7,1384.92 L527.2,1385.13 L529.7,1385.34 L532.2,1385.55 L534.7,1385.76 L537.2,1385.94 L539.7,1386.11 L542.2,1386.28 L544.7,1386.45 L547.2,1386.61 L547.2,1048.66 L548.4,1054.14 L551.3,1057.91 L554.9,1060.83 L554.9,1387.14 L557.4,1387.31 L559.9,1387.47 L562.4,1387.64 L564.9,1387.81 L567.4,1387.87 L569.9,1387.84 L572.4,1387.81 L574.9,1387.78 L577.4,1387.75 L578.2,1387.74 L578.2,1027.25 L579.4,1032.92 L582.3,1036.82 L585.9,1039.85 L585.9,1387.64 L588.4,1387.61 L590.9,1387.58 L593.4,1387.55 L595.9,1387.52 L598.4,1387.49 L600.9,1387.47 L603.4,1387.46 L605.9,1387.46 L608.4,1387.45 L609.1,1387.45 L609.1,994.94 L610.3,1000.04 L613.2,1003.55 L616.8,1006.27 L616.8,1387.44 L619.3,1387.44 L621.8,1387.43 L624.3,1387.43 L626.8,1387.42 L629.3,1387.42 L631.8,1387.41 L634.3,1387.41 L636.8,1387.41 L639.5,1387.4 L639.5,968.49 L640.7,971.33 L643.6,973.28 L647.2,974.79 L647.2,1387.39 L649.7,1387.38 L652.2,1387.38 L654.7,1387.38 L657.2,1387.37 L659.7,1387.37 L662.2,1387.36 L664.7,1387.36 L667.2,1387.35 L670.2,1387.35 L670.2,947.51 L671.4,951.29 L674.3,953.89 L677.9,955.9 L677.9,1387.34 L680.4,1387.33 L682.9,1387.33 L685.4,1387.32 L687.9,1387.32 L690.4,1387.32 L692.9,1387.31 L695.4,1387.31 L697.9,1387.3 L700.4,1387.3 L701.5,1387.3 L701.5,926.52 L702.7,930.3 L705.6,932.9 L709.2,934.92 L709.2,1387.28 L711.7,1387.28 L714.2,1387.28 L716.7,1387.27 L719.2,1387.27 L721.7,1387.26 L724.2,1387.26 L726.7,1387.26 L729.2,1387.25 L731.6,1387.25 L731.6,909.73 L732.8,912.57 L735.7,914.52 L739.3,916.03 L739.3,1387.23 L741.8,1387.23 L744.3,1387.23 L746.8,1387.22 L749.3,1387.22 L751.8,1387.21 L754.3,1387.21 L756.8,1387.2 L759.3,1387.2 L761.8,1387.2 L762.9,1387.19 L762.9,888.75 L764.1,889.5 L767,890.02 L770.6,890.43 L770.6,1387.18 L773.1,1387.18 L775.6,1387.17 L778.1,1387.17 L780.6,1387.16 L783.1,1387.16 L785.6,1387.16 L788.1,1387.15 L790.6,1387.15 L793.6,1387.14 L793.6,873.64 L794.8,876.66 L797.7,878.74 L801.3,880.35 L801.3,1387.13 L803.8,1387.13 L806.3,1387.12 L808.8,1387.12 L811.3,1387.11 L813.8,1387.11 L816.3,1387.1 L818.8,1387.1 L821.3,1387.1 L824.3,1387.09 L824.3,873.64 L827.3,878.55 L829.8,884.55" fill="none" stroke="#0070C0" stroke-width="5" stroke-linejoin="round" stroke-linecap="round" />
<path d="M235.8,1398.8 L235.8,1394.5 L237,1395.07 L239.9,1395.46 L244.4,1395.76 L244.4,1405.1 L246.9,1405.02 L249.4,1404.83 L251.9,1404.63 L254.4,1404.43 L256.9,1404.24 L259.4,1404.04 L261.9,1403.84 L264.4,1402.49 L266.6,1401.26 L266.6,1350.43 L267.8,1351.38 L270.7,1352.03 L274.3,1352.53 L274.3,1396.95 L276.8,1395.55 L279.3,1394.8 L281.8,1394.1 L284.3,1393.4 L286.8,1392.7 L289.3,1392 L291.8,1391.3 L294.3,1390.6 L296.8,1389.71 L297.7,1389.36 L297.7,1305.11 L298.9,1306.62 L301.8,1307.66 L305.4,1308.46 L305.4,1386.38 L307.9,1385.41 L310.4,1385.09 L312.9,1384.8 L315.4,1384.51 L317.9,1384.21 L320.4,1383.92 L322.9,1383.63 L325.4,1383.34 L328.2,1383.23 L328.2,1262.29 L329.4,1264.18 L332.3,1265.48 L335.9,1266.49 L335.9,1383.1 L338.4,1383.05 L340.9,1383.01 L343.4,1382.97 L345.9,1382.92 L348.4,1382.88 L350.9,1382.88 L353.4,1382.95 L355.9,1383.03 L358.7,1383.11 L358.7,1211.93 L359.9,1213.82 L362.8,1215.12 L366.4,1216.13 L366.4,1383.34 L368.9,1383.42 L371.4,1383.49 L373.9,1383.57 L376.4,1383.64 L378.9,1383.75 L381.4,1383.91 L383.9,1384.08 L386.4,1384.24 L389.4,1384.44 L389.4,1169.12 L390.6,1170.44 L393.5,1171.35 L397.1,1172.06 L397.1,1384.94 L399.6,1385.11 L402.1,1385.27 L404.6,1385.43 L407.1,1385.6 L409.6,1385.76 L412.1,1385.94 L414.6,1386.11 L417.1,1386.29 L419.9,1386.48 L419.9,1113.72 L421.1,1121.08 L424,1126.16 L427.6,1130.08 L427.6,1387.02 L430.1,1387.19 L432.6,1387.37 L435.1,1387.54 L437.6,1387.72 L440.1,1387.89 L442.6,1387.96 L445.1,1388.03 L447.6,1388.1 L450.1,1388.17 L451.6,1388.21 L451.6,1080.98 L452.8,1082.3 L455.7,1083.21 L459.3,1083.92 L459.3,1388.43 L461.8,1388.5 L464.3,1388.57 L466.8,1388.64 L469.3,1388.71 L471.8,1388.83 L474.3,1388.97 L476.8,1389.11 L479.3,1389.25 L481.8,1389.39 L482.5,1389.43 L482.5,1037.33 L483.7,1038.65 L486.6,1039.56 L490.2,1040.27 L490.2,1389.86 L492.7,1390 L495.2,1390.14 L497.7,1390.28 L500.2,1390.41 L502.7,1390.45 L505.2,1390.49 L507.7,1390.53 L510.2,1390.58 L512.7,1390.62 L515.2,1390.66 L517,1390.69 L517,994.94 L518.2,996.07 L521.1,996.85 L524.7,997.45 L524.7,1390.82 L527.2,1390.86 L529.7,1390.9 L532.2,1390.95 L534.7,1390.99 L537.2,1391.03 L539.7,1391.07 L542.2,1391.11 L544.7,1391.16 L547.2,1391.2 L547.2,967.65 L548.4,968.79 L551.3,969.57 L554.9,970.17 L554.9,1391.33 L557.4,1391.37 L559.9,1391.41 L562.4,1391.45 L564.9,1391.5 L567.4,1391.54 L569.9,1391.58 L572.4,1391.62 L574.9,1391.66 L577.4,1391.71 L578.2,1391.72 L578.2,936.18 L579.4,939.58 L582.3,941.92 L585.9,943.73 L585.9,1391.85 L588.4,1391.89 L590.9,1391.93 L593.4,1391.97 L595.9,1392.02 L598.4,1392.06 L600.9,1392.09 L603.4,1392.1 L605.9,1392.1 L608.4,1392.11 L609.1,1392.12 L609.1,926.1 L610.3,929.31 L613.2,931.53 L616.8,933.24 L616.8,1392.14 L619.3,1392.15 L621.8,1392.16 L624.3,1392.17 L626.8,1392.17 L629.3,1392.18 L631.8,1392.19 L634.3,1392.2 L636.8,1392.21 L639.5,1392.22 L639.5,918.13 L640.7,922.66 L643.6,925.78 L647.2,928.2 L647.2,1392.24 L649.7,1392.25 L652.2,1392.26 L654.7,1392.27 L657.2,1392.28 L659.7,1392.29 L662.2,1392.29 L664.7,1392.3 L667.2,1392.31 L670.2,1392.32 L670.2,909.31 L671.4,914.41 L674.3,917.93 L677.9,920.65 L677.9,1392.35 L680.4,1392.35 L682.9,1392.36 L685.4,1392.37 L687.9,1392.38 L690.4,1392.39 L692.9,1392.4 L695.4,1392.4 L697.9,1392.41 L700.4,1392.42 L701.5,1392.43 L701.5,907.22 L702.7,912.13 L705.6,915.51 L709.2,918.13 L709.2,1392.45 L711.7,1392.46 L714.2,1392.47 L716.7,1392.48 L719.2,1392.48 L721.7,1392.49 L724.2,1392.5 L726.7,1392.51 L729.2,1392.52 L731.6,1392.53 L731.6,905.54 L732.8,910.26 L735.7,913.51 L739.3,916.03 L739.3,1392.55 L741.8,1392.56 L744.3,1392.57 L746.8,1392.58 L749.3,1392.59 L751.8,1392.59 L754.3,1392.6 L756.8,1392.61 L759.3,1392.62 L761.8,1392.63 L762.9,1392.63 L762.9,905.96 L764.1,910.49 L767,913.61 L770.6,916.03 L770.6,1392.66 L773.1,1392.67 L775.6,1392.67 L778.1,1392.68 L780.6,1392.69 L783.1,1392.7 L785.6,1392.71 L788.1,1392.72 L790.6,1392.72 L793.6,1392.73 L793.6,900.5 L794.8,905.6 L797.7,909.11 L801.3,911.83 L801.3,1392.76 L803.8,1392.77 L806.3,1392.78 L808.8,1392.79 L811.3,1392.79 L813.8,1392.8 L816.3,1392.81 L818.8,1392.82 L821.3,1392.83 L824.3,1392.84 L824.3,906.38 L827.3,911.29 L829.8,917.29" fill="none" stroke="#00B050" stroke-width="5" stroke-linejoin="round" stroke-linecap="round" />
<path d="M235.8,1398.8 L235.8,1372.26 L237,1373.77 L239.9,1374.81 L244.4,1375.62 L244.4,1400.06 L246.9,1399.21 L249.4,1396.85 L251.9,1395.35 L254.4,1394.13 L256.9,1392.92 L259.4,1391.74 L261.9,1390.56 L264.4,1389.44 L266.6,1388.73 L266.6,1338.68 L267.8,1339.82 L270.7,1340.6 L274.3,1341.2 L274.3,1386.24 L276.8,1385.43 L279.3,1384.94 L281.8,1384.47 L284.3,1384.01 L286.8,1383.54 L289.3,1383.07 L291.8,1382.61 L294.3,1382.14 L296.8,1381.66 L297.7,1381.49 L297.7,1300.07 L298.9,1301.96 L301.8,1303.26 L305.4,1304.27 L305.4,1380 L307.9,1379.51 L310.4,1379.27 L312.9,1379.04 L315.4,1378.8 L317.9,1378.57 L320.4,1378.34 L322.9,1378.1 L325.4,1377.87 L328.2,1377.81 L328.2,1279.08 L329.4,1280.03 L332.3,1280.68 L335.9,1281.18 L335.9,1377.81 L338.4,1377.81 L340.9,1377.81 L343.4,1377.81 L345.9,1377.81 L348.4,1377.81 L350.9,1377.88 L353.4,1378.05 L355.9,1378.23 L358.7,1378.42 L358.7,1248.02 L359.9,1248.78 L362.8,1249.3 L366.4,1249.7 L366.4,1378.96 L368.9,1379.14 L371.4,1379.31 L373.9,1379.49 L376.4,1379.66 L378.9,1379.84 L381.4,1380.03 L383.9,1380.24 L386.4,1380.45 L389.4,1380.7 L389.4,1207.73 L390.6,1208.68 L393.5,1209.33 L397.1,1209.83 L397.1,1381.35 L399.6,1381.56 L402.1,1381.77 L404.6,1381.98 L407.1,1382.19 L409.6,1382.4 L412.1,1382.58 L414.6,1382.75 L417.1,1382.93 L419.9,1383.12 L419.9,1160.72 L421.1,1161.1 L424,1161.36 L427.6,1161.56 L427.6,1383.66 L430.1,1383.84 L432.6,1384.01 L435.1,1384.19 L437.6,1384.36 L440.1,1384.54 L442.6,1384.71 L445.1,1384.89 L447.6,1385.06 L450.1,1385.24 L451.6,1385.34 L451.6,1116.65 L452.8,1117.22 L455.7,1117.61 L459.3,1117.91 L459.3,1385.88 L461.8,1386.05 L464.3,1386.23 L466.8,1386.4 L469.3,1386.58 L471.8,1386.68 L474.3,1386.75 L476.8,1386.82 L479.3,1386.89 L481.8,1386.96 L482.5,1386.98 L482.5,1084.34 L483.7,1081.69 L486.6,1079.87 L490.2,1078.46 L490.2,1387.19 L492.7,1387.26 L495.2,1387.33 L497.7,1387.4 L500.2,1387.47 L502.7,1387.56 L505.2,1387.65 L507.7,1387.74 L510.2,1387.83 L512.7,1387.92 L515.2,1388.01 L517,1388.08 L517,1043.62 L518.2,1043.62 L521.1,1043.62 L524.7,1043.62 L524.7,1388.36 L527.2,1388.45 L529.7,1388.54 L532.2,1388.63 L534.7,1388.72 L537.2,1388.89 L539.7,1389.07 L542.2,1389.24 L544.7,1389.42 L547.2,1389.6 L547.2,1016.76 L548.4,1016.76 L551.3,1016.76 L554.9,1016.76 L554.9,1390.16 L557.4,1390.34 L559.9,1390.52 L562.4,1390.7 L564.9,1390.88 L567.4,1391.06 L569.9,1391.24 L572.4,1391.31 L574.9,1391.37 L577.4,1391.44 L578.2,1391.46 L578.2,992 L579.4,994.08 L582.3,995.51 L585.9,996.62 L585.9,1391.66 L588.4,1391.73 L590.9,1391.79 L593.4,1391.86 L595.9,1391.92 L598.4,1391.99 L600.9,1392.06 L603.4,1392.12 L605.9,1392.19 L608.4,1392.25 L609.1,1392.27 L609.1,979.41 L610.3,981.48 L613.2,982.92 L616.8,984.02 L616.8,1392.47 L619.3,1392.54 L621.8,1392.6 L624.3,1392.67 L626.8,1392.74 L629.3,1392.8 L631.8,1392.87 L634.3,1392.93 L636.8,1393 L639.5,1393.07 L639.5,972.69 L640.7,974.39 L643.6,975.56 L647.2,976.47 L647.2,1393.27 L649.7,1393.34 L652.2,1393.35 L654.7,1393.35 L657.2,1393.36 L659.7,1393.36 L662.2,1393.37 L664.7,1393.37 L667.2,1393.38 L670.2,1393.39 L670.2,969.33 L671.4,970.84 L674.3,971.89 L677.9,972.69 L677.9,1393.4 L680.4,1393.41 L682.9,1393.41 L685.4,1393.42 L687.9,1393.42 L690.4,1393.43 L692.9,1393.43 L695.4,1393.44 L697.9,1393.44 L700.4,1393.45 L701.5,1393.45 L701.5,965.56 L702.7,966.88 L705.6,967.79 L709.2,968.49 L709.2,1393.47 L711.7,1393.47 L714.2,1393.48 L716.7,1393.48 L719.2,1393.49 L721.7,1393.49 L724.2,1393.5 L726.7,1393.5 L729.2,1393.51 L731.6,1393.51 L731.6,964.3 L732.8,965.24 L735.7,965.89 L739.3,966.4 L739.3,1393.53 L741.8,1393.54 L744.3,1393.54 L746.8,1393.55 L749.3,1393.55 L751.8,1393.56 L754.3,1393.56 L756.8,1393.57 L759.3,1393.57 L761.8,1393.58 L762.9,1393.58 L762.9,964.3 L764.1,965.24 L767,965.89 L770.6,966.4 L770.6,1393.6 L773.1,1393.6 L775.6,1393.61 L778.1,1393.61 L780.6,1393.62 L783.1,1393.62 L785.6,1393.63 L788.1,1393.63 L790.6,1393.64 L793.6,1393.65 L793.6,964.3 L794.8,965.24 L797.7,965.89 L801.3,966.4 L801.3,1393.66 L803.8,1393.67 L806.3,1393.67 L808.8,1393.68 L811.3,1393.68 L813.8,1393.69 L816.3,1393.69 L818.8,1393.7 L821.3,1393.7 L824.3,1393.71 L824.3,966.4 L827.3,970.74 L829.8,976.05" fill="none" stroke="#AFABAB" stroke-width="5" stroke-linejoin="round" stroke-linecap="round" />
<path d="M235.8,1398.8 L235.8,1376.88 L238.3,1378.97 L240.8,1373.1 L244.4,1374.78 L244.4,1404.83 L246.9,1405.1 L249.4,1405.1 L251.9,1405.1 L254.4,1405.1 L256.9,1405.1 L259.4,1405.1 L261.9,1405.1 L264.4,1404.83 L266.6,1403.37 L266.6,1300.07 L267.8,1308.76 L270.7,1314.74 L274.3,1319.38 L274.3,1398.25 L276.8,1397.03 L279.3,1396.76 L281.8,1396.48 L284.3,1396.2 L286.8,1395.93 L289.3,1395.65 L291.8,1395.38 L294.3,1395.1 L296.8,1394.72 L297.7,1394.57 L297.7,1245.51 L298.9,1252.31 L301.8,1256.99 L305.4,1260.62 L305.4,1393.28 L307.9,1392.86 L310.4,1392.5 L312.9,1392.46 L315.4,1392.43 L317.9,1392.39 L320.4,1392.36 L322.9,1392.32 L325.4,1392.29 L328.2,1392.25 L328.2,1189.68 L329.4,1199.32 L332.3,1205.95 L335.9,1211.09 L335.9,1392.14 L338.4,1392.11 L340.9,1392.08 L343.4,1392.08 L345.9,1392.08 L348.4,1392.08 L350.9,1392.08 L353.4,1392.08 L355.9,1392.08 L358.7,1392.08 L358.7,1158.21 L359.9,1169.16 L362.8,1176.71 L366.4,1182.55 L366.4,1392.08 L368.9,1392.08 L371.4,1392.08 L373.9,1392.08 L376.4,1392.08 L378.9,1392.08 L381.4,1392.08 L383.9,1392.08 L386.4,1392.08 L389.4,1392.08 L389.4,1144.35 L390.6,1156.82 L393.5,1165.41 L397.1,1172.06 L397.1,1392.08 L399.6,1392.08 L402.1,1392.08 L404.6,1392.08 L407.1,1392.08 L409.6,1392.08 L412.1,1392.08 L414.6,1392.08 L417.1,1392.08 L419.9,1392.08 L419.9,1150.23 L421.1,1159.49 L424,1165.86 L427.6,1170.8 L427.6,1392.08 L430.1,1392.08 L432.6,1392.08 L435.1,1392.08 L437.6,1392.08 L440.1,1392.08 L442.6,1392.08 L445.1,1392.08 L447.6,1392.08 L450.1,1392.08 L451.6,1392.08 L451.6,1146.87 L452.8,1156.69 L455.7,1163.46 L459.3,1168.7 L459.3,1392.08 L461.8,1392.08 L464.3,1392.08 L466.8,1392.08 L469.3,1392.08 L471.8,1392.08 L474.3,1392.08 L476.8,1392.08 L479.3,1392.08 L481.8,1392.08 L482.5,1392.08 L482.5,1151.91 L483.7,1158.9 L486.6,1163.71 L490.2,1167.44 L490.2,1392.08 L492.7,1392.08 L495.2,1392.08 L497.7,1392.08 L500.2,1392.08 L502.7,1392.08 L505.2,1392.08 L507.7,1392.08 L510.2,1392.08 L512.7,1392.08 L515.2,1392.08 L517,1392.08 L517,1150.23 L518.2,1157.97 L521.1,1163.31 L524.7,1167.44 L524.7,1392.08 L527.2,1392.08 L529.7,1392.08 L532.2,1392.08 L534.7,1392.08 L537.2,1392.08 L539.7,1392.08 L542.2,1392.08 L544.7,1392.08 L547.2,1392.08 L547.2,1150.23 L548.4,1157.97 L551.3,1163.31 L554.9,1167.44 L554.9,1392.08 L557.4,1392.08 L559.9,1392.08 L562.4,1392.08 L564.9,1392.08 L567.4,1392.08 L569.9,1392.08 L572.4,1392.08 L574.9,1392.08 L577.4,1392.08 L578.2,1392.08 L578.2,1150.23 L579.4,1157.97 L582.3,1163.31 L585.9,1167.44 L585.9,1392.08 L588.4,1392.08 L590.9,1392.08 L593.4,1392.08 L595.9,1392.08 L598.4,1392.08 L600.9,1392.08 L603.4,1392.08 L605.9,1392.08 L608.4,1392.08 L609.1,1392.08 L609.1,1150.23 L610.3,1157.97 L613.2,1163.31 L616.8,1167.44 L616.8,1392.08 L619.3,1392.08 L621.8,1392.08 L624.3,1392.08 L626.8,1392.08 L629.3,1392.08 L631.8,1392.08 L634.3,1392.08 L636.8,1392.08 L639.5,1392.08 L639.5,1150.23 L640.7,1157.97 L643.6,1163.31 L647.2,1167.44 L647.2,1392.08 L649.7,1392.08 L652.2,1392.08 L654.7,1392.08 L657.2,1392.08 L659.7,1392.08 L662.2,1392.08 L664.7,1392.08 L667.2,1392.08 L670.2,1392.08 L670.2,1150.23 L671.4,1157.97 L674.3,1163.31 L677.9,1167.44 L677.9,1392.08 L680.4,1392.08 L682.9,1392.08 L685.4,1392.08 L687.9,1392.08 L690.4,1392.08 L692.9,1392.08 L695.4,1392.08 L697.9,1392.08 L700.4,1392.08 L701.5,1392.08 L701.5,1150.23 L702.7,1157.97 L705.6,1163.31 L709.2,1167.44 L709.2,1392.08 L711.7,1392.08 L714.2,1392.08 L716.7,1392.08 L719.2,1392.08 L721.7,1392.08 L724.2,1392.08 L726.7,1392.08 L729.2,1392.08 L731.6,1392.08 L731.6,1150.23 L732.8,1157.97 L735.7,1163.31 L739.3,1167.44 L739.3,1392.08 L741.8,1392.08 L744.3,1392.08 L746.8,1392.08 L749.3,1392.08 L751.8,1392.08 L754.3,1392.08 L756.8,1392.08 L759.3,1392.08 L761.8,1392.08 L762.9,1392.08 L762.9,1150.23 L764.1,1157.97 L767,1163.31 L770.6,1167.44 L770.6,1392.08 L773.1,1392.08 L775.6,1392.08 L778.1,1392.08 L780.6,1392.08 L783.1,1392.08 L785.6,1392.08 L788.1,1392.08 L790.6,1392.08 L793.6,1392.08 L793.6,1150.23 L794.8,1157.97 L797.7,1163.31 L801.3,1167.44 L801.3,1392.08 L803.8,1392.08 L806.3,1392.08 L808.8,1392.08 L811.3,1392.08 L813.8,1392.08 L816.3,1392.08 L818.8,1392.08 L821.3,1392.08 L824.3,1392.08 L824.3,1150.23 L827.3,1157.97 L829.8,1167.44" fill="none" stroke="#FF7F27" stroke-width="5" stroke-linejoin="round" stroke-linecap="round" />
</g>
<text transform="translate(37,1097) rotate(-90)" font-size="31.6" text-anchor="middle">Current density / mA · cm<tspan dy="-9.5" font-size="20">-2</tspan></text>
<text x="503" y="1511" font-size="31.4" text-anchor="middle" >Potential / V vs (Ag/AgCl)</text>
<text x="576.5" y="1582.5" font-size="37.5" text-anchor="middle" >(b)</text>
<line x1="861.5" y1="982.8" x2="911" y2="982.8" stroke="#FF0000" stroke-width="3"/>
<text x="916" y="993" font-size="30" text-anchor="start" >TiO<tspan font-size="25" dy="2">2</tspan><tspan dy="-2">/ZnO_10 mM</tspan></text>
<line x1="861.5" y1="1032.88" x2="911" y2="1032.88" stroke="#0070C0" stroke-width="3"/>
<text x="916" y="1043.08" font-size="30" text-anchor="start" >TiO<tspan font-size="25" dy="2">2</tspan><tspan dy="-2">/ZnO_5 mM</tspan></text>
<line x1="861.5" y1="1082.96" x2="911" y2="1082.96" stroke="#FFC000" stroke-width="3"/>
<text x="916" y="1093.16" font-size="30" text-anchor="start" >TiO<tspan font-size="25" dy="2">2</tspan><tspan dy="-2">/ZnO_3 mM</tspan></text>
<line x1="861.5" y1="1133.04" x2="911" y2="1133.04" stroke="#00B050" stroke-width="3"/>
<text x="916" y="1143.24" font-size="30" text-anchor="start" >TiO<tspan font-size="25" dy="2">2</tspan><tspan dy="-2">/ZnO_1 mM</tspan></text>
<line x1="861.5" y1="1183.12" x2="911" y2="1183.12" stroke="#AFABAB" stroke-width="3"/>
<text x="916" y="1193.32" font-size="30" text-anchor="start" >TiO<tspan font-size="25" dy="2">2</tspan><tspan dy="-2">/ZnO_0.5 mM</tspan></text>
<line x1="861.5" y1="1233.2" x2="911" y2="1233.2" stroke="#FF7F27" stroke-width="3"/>
<text x="916" y="1243.4" font-size="30" text-anchor="start" >Annealed TiO<tspan font-size="25" dy="2">2</tspan></text>
</svg></body></html>
